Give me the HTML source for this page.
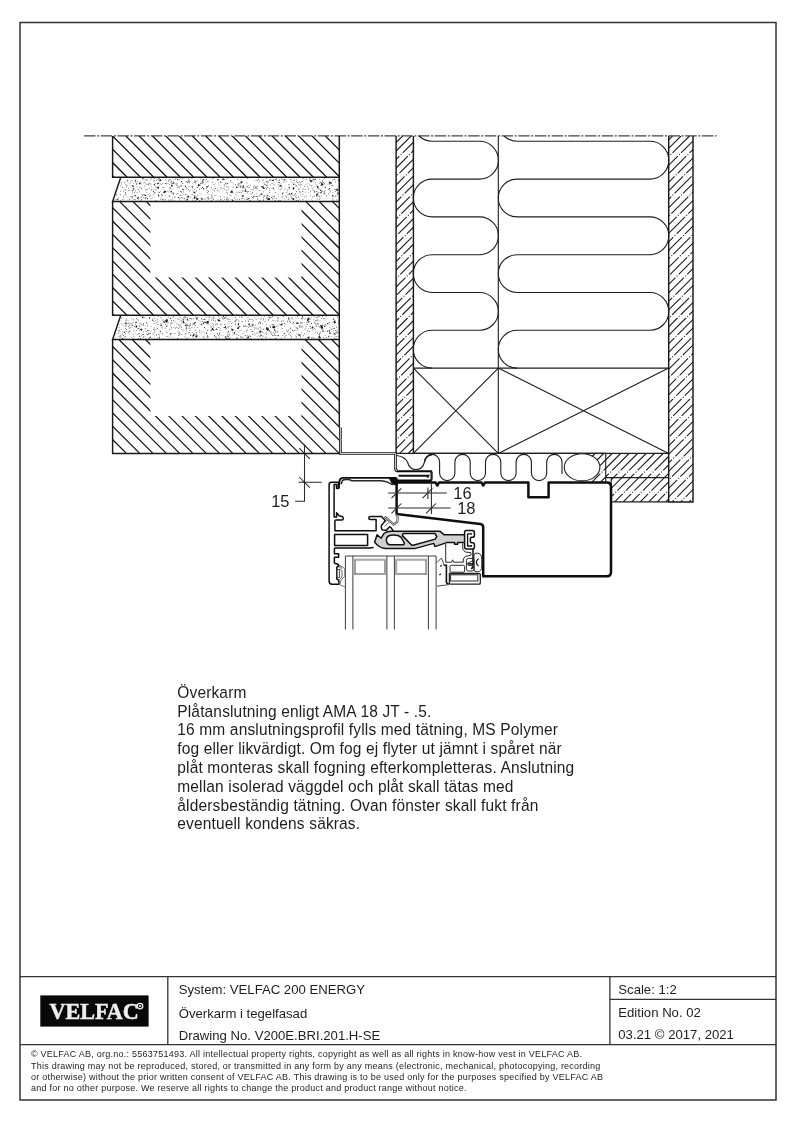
<!DOCTYPE html>
<html><head><meta charset="utf-8">
<style>
html,body{margin:0;padding:0;background:#fff;}
svg{display:block;filter:grayscale(100%);}
text{font-family:"Liberation Sans",sans-serif;fill:#1e1e1e;}
</style></head>
<body>
<svg width="794" height="1123" viewBox="0 0 794 1123">
<!-- frame -->
<rect x="20" y="22.5" width="756" height="1077.5" fill="none" stroke="#333" stroke-width="1.5"/>
<!-- title block -->
<g stroke="#333" stroke-width="1.3" fill="none">
<line x1="20" y1="976.7" x2="776" y2="976.7"/>
<line x1="20" y1="1044.6" x2="776" y2="1044.6"/>
<line x1="167.8" y1="976.7" x2="167.8" y2="1044.6"/>
<line x1="609.9" y1="976.7" x2="609.9" y2="1044.6"/>
<line x1="609.9" y1="999.4" x2="776" y2="999.4"/>
</g>
<rect x="40.3" y="995.4" width="108.3" height="31.2" fill="#080808"/>
<text x="49.4" y="1018.7" transform="translate(49.4 0) scale(0.985 1) translate(-49.4 0)" style="font-family:'Liberation Serif',serif;font-weight:bold;font-size:22.5px;fill:#eeeeee;stroke:#eeeeee;stroke-width:0.5px">VELFAC</text>
<circle cx="140" cy="1006.1" r="2.8" fill="none" stroke="#eee" stroke-width="1.3"/>
<circle cx="140" cy="1006.1" r="1.1" fill="#eee"/>
<g style="font-size:13.15px">
<text x="178.7" y="994.2">System: VELFAC 200 ENERGY</text>
<text x="178.7" y="1017.5">Överkarm i tegelfasad</text>
<text x="178.7" y="1039.5">Drawing No. V200E.BRI.201.H-SE</text>
<text x="618.3" y="993.7">Scale: 1:2</text>
<text x="618.3" y="1017">Edition No. 02</text>
<text x="618.3" y="1039">03.21 © 2017, 2021</text>
</g>
<g style="font-size:9px;letter-spacing:0.245px">
<text x="31" y="1057.2">© VELFAC AB, org.no.: 5563751493. All intellectual property rights, copyright as well as all rights in know-how vest in VELFAC AB.</text>
<text x="31" y="1068.9">This drawing may not be reproduced, stored, or transmitted in any form by any means (electronic, mechanical, photocopying, recording</text>
<text x="31" y="1080.3">or otherwise) without the prior written consent of VELFAC AB. This drawing is to be used only for the purposes specified by VELFAC AB</text>
<text x="31" y="1091.4">and for no other purpose. We reserve all rights to change the product and product range without notice.</text>
</g>
<g style="font-size:15.5px;letter-spacing:0.15px">
<text x="177.3" y="0" transform="translate(0 697.7) scale(1 1.06)">Överkarm</text>
<text x="177.3" y="0" transform="translate(0 716.5) scale(1 1.06)">Plåtanslutning enligt AMA 18 JT - .5.</text>
<text x="177.3" y="0" transform="translate(0 735.3) scale(1 1.06)">16 mm anslutningsprofil fylls med tätning, MS Polymer</text>
<text x="177.3" y="0" transform="translate(0 754.1) scale(1 1.06)">fog eller likvärdigt. Om fog ej flyter ut jämnt i spåret när</text>
<text x="177.3" y="0" transform="translate(0 772.9) scale(1 1.06)">plåt monteras skall fogning efterkompletteras. Anslutning</text>
<text x="177.3" y="0" transform="translate(0 791.7) scale(1 1.06)">mellan isolerad väggdel och plåt skall tätas med</text>
<text x="177.3" y="0" transform="translate(0 810.5) scale(1 1.06)">åldersbeständig tätning. Ovan fönster skall fukt från</text>
<text x="177.3" y="0" transform="translate(0 829.3) scale(1 1.06)">eventuell kondens säkras.</text>
</g>
<g id="drawing">
<path d="M84 135.9H716.5" stroke="#444" stroke-width="1.1" stroke-dasharray="11.5 1.6 2 1.6" fill="none"/>
<clipPath id="brk1"><path d="M112.6 136H339.3V177.2H112.6Z"/></clipPath>
<clipPath id="brk2"><path clip-rule="evenodd" d="M112.6 201.4H339.3V315.3H112.6ZM150.4 201.4H301.5V277.4H150.4Z"/></clipPath>
<clipPath id="brk3"><path clip-rule="evenodd" d="M112.6 339.5H339.3V453.4H112.6ZM150.4 339.5H301.5V416.0H150.4Z"/></clipPath>
<path clip-path="url(#brk1)" d="M59.40 136.00L100.60 177.20M72.70 136.00L113.90 177.20M86.00 136.00L127.20 177.20M99.30 136.00L140.50 177.20M112.60 136.00L153.80 177.20M125.90 136.00L167.10 177.20M139.20 136.00L180.40 177.20M152.50 136.00L193.70 177.20M165.80 136.00L207.00 177.20M179.10 136.00L220.30 177.20M192.40 136.00L233.60 177.20M205.70 136.00L246.90 177.20M219.00 136.00L260.20 177.20M232.30 136.00L273.50 177.20M245.60 136.00L286.80 177.20M258.90 136.00L300.10 177.20M272.20 136.00L313.40 177.20M285.50 136.00L326.70 177.20M298.80 136.00L340.00 177.20M312.10 136.00L353.30 177.20M325.40 136.00L366.60 177.20M338.70 136.00L379.90 177.20M352.00 136.00L393.20 177.20" fill="none" stroke="#141414" stroke-width="1.25"/>
<path clip-path="url(#brk2)" d="M-13.50 201.40L100.40 315.30M-0.20 201.40L113.70 315.30M13.10 201.40L127.00 315.30M26.40 201.40L140.30 315.30M39.70 201.40L153.60 315.30M53.00 201.40L166.90 315.30M66.30 201.40L180.20 315.30M79.60 201.40L193.50 315.30M92.90 201.40L206.80 315.30M106.20 201.40L220.10 315.30M119.50 201.40L233.40 315.30M132.80 201.40L246.70 315.30M146.10 201.40L260.00 315.30M159.40 201.40L273.30 315.30M172.70 201.40L286.60 315.30M186.00 201.40L299.90 315.30M199.30 201.40L313.20 315.30M212.60 201.40L326.50 315.30M225.90 201.40L339.80 315.30M239.20 201.40L353.10 315.30M252.50 201.40L366.40 315.30M265.80 201.40L379.70 315.30M279.10 201.40L393.00 315.30M292.40 201.40L406.30 315.30M305.70 201.40L419.60 315.30M319.00 201.40L432.90 315.30M332.30 201.40L446.20 315.30M345.60 201.40L459.50 315.30" fill="none" stroke="#141414" stroke-width="1.25"/>
<path clip-path="url(#brk3)" d="M-14.10 339.50L99.80 453.40M-0.80 339.50L113.10 453.40M12.50 339.50L126.40 453.40M25.80 339.50L139.70 453.40M39.10 339.50L153.00 453.40M52.40 339.50L166.30 453.40M65.70 339.50L179.60 453.40M79.00 339.50L192.90 453.40M92.30 339.50L206.20 453.40M105.60 339.50L219.50 453.40M118.90 339.50L232.80 453.40M132.20 339.50L246.10 453.40M145.50 339.50L259.40 453.40M158.80 339.50L272.70 453.40M172.10 339.50L286.00 453.40M185.40 339.50L299.30 453.40M198.70 339.50L312.60 453.40M212.00 339.50L325.90 453.40M225.30 339.50L339.20 453.40M238.60 339.50L352.50 453.40M251.90 339.50L365.80 453.40M265.20 339.50L379.10 453.40M278.50 339.50L392.40 453.40M291.80 339.50L405.70 453.40M305.10 339.50L419.00 453.40M318.40 339.50L432.30 453.40M331.70 339.50L445.60 453.40M345.00 339.50L458.90 453.40" fill="none" stroke="#141414" stroke-width="1.25"/>
<path d="M112.6 136V177.2H339.3M112.6 201.4V315.3H339.3M112.6 339.5V453.4H339.3" fill="none" stroke="#181818" stroke-width="1.45"/>
<path d="M120.8 177.2L112.6 201.4H339.3M120.8 315.3L112.6 339.5H339.3" fill="none" stroke="#181818" stroke-width="1.45"/>
<path d="M339.3 136V427.4" fill="none" stroke="#181818" stroke-width="1.45"/>
<path d="M185.9 181.4h0.71v0.71h-0.71zM129.0 190.1h0.60v0.60h-0.60zM125.7 189.5h0.46v0.46h-0.46zM210.7 179.6h0.49v0.49h-0.49zM208.6 196.7h0.50v0.50h-0.50zM163.1 192.2h0.83v0.83h-0.83zM243.1 187.0h0.84v0.84h-0.84zM123.1 197.4h0.57v0.57h-0.57zM145.2 180.7h0.57v0.57h-0.57zM297.2 182.1h0.68v0.68h-0.68zM257.1 186.4h0.67v0.67h-0.67zM126.8 179.3h0.53v0.53h-0.53zM266.5 187.7h0.58v0.58h-0.58zM245.1 188.2h0.57v0.57h-0.57zM292.3 193.8h0.55v0.55h-0.55zM242.5 189.9h0.80v0.80h-0.80zM277.6 184.5h0.84v0.84h-0.84zM139.3 187.4h0.75v0.75h-0.75zM147.0 189.1h0.47v0.47h-0.47zM263.8 195.3h0.68v0.68h-0.68zM310.6 185.1h0.73v0.73h-0.73zM247.0 191.1h0.63v0.63h-0.63zM302.6 199.3h0.64v0.64h-0.64zM262.8 179.4h0.73v0.73h-0.73zM259.0 200.4h0.78v0.78h-0.78zM177.0 186.7h0.72v0.72h-0.72zM150.6 180.6h0.47v0.47h-0.47zM286.4 180.9h0.55v0.55h-0.55zM201.0 197.7h0.48v0.48h-0.48zM214.2 190.4h0.80v0.80h-0.80zM297.9 197.5h0.56v0.56h-0.56zM206.5 186.1h0.80v0.80h-0.80zM329.2 181.4h0.52v0.52h-0.52zM165.1 183.3h0.64v0.64h-0.64zM245.9 183.9h0.45v0.45h-0.45zM207.4 186.3h0.68v0.68h-0.68zM328.2 193.6h0.66v0.66h-0.66zM252.3 193.3h0.47v0.47h-0.47zM316.1 195.6h0.80v0.80h-0.80zM293.1 186.9h0.61v0.61h-0.61zM136.0 192.3h0.47v0.47h-0.47zM127.8 182.7h0.51v0.51h-0.51zM189.5 179.2h0.45v0.45h-0.45zM146.8 180.3h0.60v0.60h-0.60zM118.4 197.8h0.70v0.70h-0.70zM146.2 183.7h0.59v0.59h-0.59zM195.0 180.8h0.79v0.79h-0.79zM337.2 188.5h0.64v0.64h-0.64zM132.0 180.3h0.59v0.59h-0.59zM172.5 196.7h0.51v0.51h-0.51zM117.8 199.5h0.66v0.66h-0.66zM145.8 190.3h0.46v0.46h-0.46zM232.1 200.1h0.80v0.80h-0.80zM270.1 183.9h0.60v0.60h-0.60zM150.4 195.4h0.66v0.66h-0.66zM288.8 185.5h0.54v0.54h-0.54zM296.2 200.3h0.79v0.79h-0.79zM294.9 196.5h0.75v0.75h-0.75zM163.9 189.7h0.59v0.59h-0.59zM175.8 183.9h0.73v0.73h-0.73zM329.0 188.1h0.82v0.82h-0.82zM336.1 199.6h0.60v0.60h-0.60zM162.5 183.1h0.53v0.53h-0.53zM158.8 192.1h0.81v0.81h-0.81zM302.7 188.8h0.71v0.71h-0.71zM293.5 179.9h0.71v0.71h-0.71zM318.4 195.7h0.75v0.75h-0.75zM220.7 182.0h0.77v0.77h-0.77zM187.8 196.1h0.84v0.84h-0.84zM202.1 187.1h0.83v0.83h-0.83zM276.5 181.8h0.50v0.50h-0.50zM146.8 198.4h0.77v0.77h-0.77zM145.7 196.7h0.84v0.84h-0.84zM261.3 185.9h0.67v0.67h-0.67zM142.2 178.3h0.84v0.84h-0.84zM259.6 189.9h0.82v0.82h-0.82zM210.7 197.7h0.78v0.78h-0.78zM160.3 183.7h0.57v0.57h-0.57zM167.0 191.3h0.55v0.55h-0.55zM207.4 181.0h0.81v0.81h-0.81zM192.6 188.4h0.68v0.68h-0.68zM317.2 187.5h0.82v0.82h-0.82zM226.1 190.0h0.66v0.66h-0.66zM154.0 178.1h0.77v0.77h-0.77zM151.6 188.7h0.74v0.74h-0.74zM238.5 185.4h0.66v0.66h-0.66zM238.2 195.7h0.49v0.49h-0.49zM239.3 183.6h0.56v0.56h-0.56zM287.3 189.5h0.67v0.67h-0.67zM284.5 198.6h0.63v0.63h-0.63zM251.2 189.4h0.65v0.65h-0.65zM269.3 188.2h0.66v0.66h-0.66zM220.7 199.3h0.73v0.73h-0.73zM310.9 199.3h0.55v0.55h-0.55zM239.2 199.3h0.79v0.79h-0.79zM143.6 180.7h0.63v0.63h-0.63zM129.0 183.4h0.48v0.48h-0.48zM264.0 195.7h0.81v0.81h-0.81zM147.5 194.2h0.71v0.71h-0.71zM144.9 198.0h0.84v0.84h-0.84zM162.3 199.5h0.61v0.61h-0.61zM222.8 200.4h0.78v0.78h-0.78zM149.1 187.8h0.66v0.66h-0.66zM189.3 182.4h0.58v0.58h-0.58zM276.0 178.4h0.67v0.67h-0.67zM212.2 178.4h0.58v0.58h-0.58zM253.7 189.6h0.48v0.48h-0.48zM335.4 195.8h0.84v0.84h-0.84zM136.3 184.0h0.47v0.47h-0.47zM288.8 184.1h0.50v0.50h-0.50zM208.1 198.6h0.78v0.78h-0.78zM171.1 181.4h0.82v0.82h-0.82zM241.7 193.8h0.49v0.49h-0.49zM125.6 193.6h0.62v0.62h-0.62zM129.0 199.2h0.70v0.70h-0.70zM293.9 179.9h0.79v0.79h-0.79zM127.7 197.5h0.63v0.63h-0.63zM189.3 190.5h0.82v0.82h-0.82zM173.2 180.9h0.66v0.66h-0.66zM166.5 180.5h0.51v0.51h-0.51zM124.0 182.6h0.57v0.57h-0.57zM181.6 195.2h0.57v0.57h-0.57zM225.7 182.0h0.59v0.59h-0.59zM116.1 194.6h0.67v0.67h-0.67zM155.5 188.7h0.82v0.82h-0.82zM136.6 196.5h0.62v0.62h-0.62zM224.6 196.9h0.61v0.61h-0.61zM227.2 193.5h0.84v0.84h-0.84zM190.1 196.8h0.73v0.73h-0.73zM256.5 187.1h0.59v0.59h-0.59zM124.9 180.9h0.48v0.48h-0.48zM280.2 183.8h0.52v0.52h-0.52zM131.7 197.0h0.80v0.80h-0.80zM264.3 184.4h0.55v0.55h-0.55zM178.9 188.4h0.51v0.51h-0.51zM213.4 183.9h0.83v0.83h-0.83zM332.6 190.4h0.55v0.55h-0.55zM331.0 185.0h0.59v0.59h-0.59zM220.0 189.4h0.53v0.53h-0.53zM226.8 178.1h0.56v0.56h-0.56zM132.9 187.0h0.47v0.47h-0.47zM165.3 191.2h0.66v0.66h-0.66zM282.4 192.9h0.74v0.74h-0.74zM311.5 186.8h0.58v0.58h-0.58zM335.3 181.4h0.74v0.74h-0.74zM258.1 179.0h0.78v0.78h-0.78zM314.4 192.2h0.74v0.74h-0.74zM296.3 181.1h0.66v0.66h-0.66zM226.7 196.9h0.77v0.77h-0.77zM299.5 191.2h0.81v0.81h-0.81zM267.1 193.7h0.54v0.54h-0.54zM194.2 180.4h0.78v0.78h-0.78zM238.9 192.2h0.70v0.70h-0.70zM266.6 189.1h0.45v0.45h-0.45zM293.0 194.9h0.65v0.65h-0.65zM233.7 192.9h0.48v0.48h-0.48zM279.3 183.7h0.48v0.48h-0.48zM172.7 194.5h0.53v0.53h-0.53zM279.9 200.1h0.65v0.65h-0.65zM199.1 188.8h0.72v0.72h-0.72zM286.1 191.9h0.71v0.71h-0.71zM130.1 181.3h0.55v0.55h-0.55zM280.7 184.9h0.68v0.68h-0.68zM173.4 193.2h0.73v0.73h-0.73zM265.4 184.6h0.66v0.66h-0.66zM217.7 188.5h0.50v0.50h-0.50zM314.7 182.5h0.84v0.84h-0.84zM324.4 178.4h0.63v0.63h-0.63zM298.1 199.9h0.63v0.63h-0.63zM173.4 182.7h0.83v0.83h-0.83zM160.3 191.1h0.51v0.51h-0.51zM231.1 199.5h0.50v0.50h-0.50zM298.1 189.5h0.80v0.80h-0.80zM271.7 183.2h0.81v0.81h-0.81zM222.6 178.6h0.45v0.45h-0.45zM223.8 188.2h0.57v0.57h-0.57zM144.4 185.8h0.58v0.58h-0.58zM302.7 178.0h0.75v0.75h-0.75zM302.4 180.7h0.82v0.82h-0.82zM273.9 198.4h0.57v0.57h-0.57zM196.8 186.9h0.85v0.85h-0.85zM245.9 186.2h0.62v0.62h-0.62zM174.8 179.1h0.49v0.49h-0.49zM301.4 184.5h0.82v0.82h-0.82zM169.0 184.0h0.65v0.65h-0.65zM155.5 186.4h0.83v0.83h-0.83zM312.6 196.4h0.70v0.70h-0.70zM319.2 199.3h0.67v0.67h-0.67zM275.4 179.1h0.74v0.74h-0.74zM214.6 195.0h0.71v0.71h-0.71zM177.3 179.1h0.82v0.82h-0.82zM141.4 188.7h0.59v0.59h-0.59zM180.0 194.7h0.84v0.84h-0.84zM171.5 192.8h0.57v0.57h-0.57zM238.7 186.9h0.52v0.52h-0.52zM149.2 182.7h0.81v0.81h-0.81zM225.0 183.0h0.81v0.81h-0.81zM338.0 188.2h0.51v0.51h-0.51zM156.1 180.1h0.59v0.59h-0.59zM133.2 183.4h0.55v0.55h-0.55zM241.4 198.1h0.75v0.75h-0.75zM206.0 187.4h0.66v0.66h-0.66zM197.8 185.6h0.47v0.47h-0.47zM175.4 199.9h0.50v0.50h-0.50zM226.5 192.2h0.80v0.80h-0.80zM161.5 184.1h0.55v0.55h-0.55zM203.0 188.1h0.83v0.83h-0.83zM304.6 197.7h0.46v0.46h-0.46zM119.9 194.0h0.81v0.81h-0.81zM219.7 191.3h0.45v0.45h-0.45zM201.2 198.9h0.78v0.78h-0.78zM306.1 200.0h0.55v0.55h-0.55zM137.3 181.5h0.66v0.66h-0.66zM266.9 199.3h0.74v0.74h-0.74zM259.0 195.3h0.63v0.63h-0.63zM237.3 178.9h0.76v0.76h-0.76zM165.2 198.8h0.71v0.71h-0.71zM181.3 180.9h0.55v0.55h-0.55zM256.5 193.8h0.49v0.49h-0.49zM128.5 189.9h0.68v0.68h-0.68zM200.4 183.1h0.69v0.69h-0.69zM216.8 199.7h0.71v0.71h-0.71zM312.5 188.7h0.54v0.54h-0.54zM168.5 199.7h0.73v0.73h-0.73zM182.1 178.5h0.65v0.65h-0.65zM265.2 187.5h0.55v0.55h-0.55zM263.6 198.9h0.54v0.54h-0.54zM120.3 185.6h0.62v0.62h-0.62zM267.0 182.5h0.77v0.77h-0.77zM279.8 189.4h0.53v0.53h-0.53zM332.0 185.0h0.78v0.78h-0.78zM164.8 183.0h0.75v0.75h-0.75zM179.3 199.5h0.65v0.65h-0.65zM155.0 183.0h0.62v0.62h-0.62zM263.1 199.4h0.51v0.51h-0.51zM201.6 182.8h0.84v0.84h-0.84zM144.7 179.2h0.47v0.47h-0.47zM201.6 198.3h0.80v0.80h-0.80zM278.3 200.5h0.82v0.82h-0.82zM187.1 182.2h0.82v0.82h-0.82zM281.4 178.7h0.72v0.72h-0.72zM198.2 186.4h0.58v0.58h-0.58zM150.9 178.1h0.56v0.56h-0.56zM192.1 199.6h0.50v0.50h-0.50zM330.7 182.7h0.59v0.59h-0.59zM298.4 196.6h0.62v0.62h-0.62zM123.7 188.7h0.60v0.60h-0.60zM320.6 182.4h0.60v0.60h-0.60zM315.5 178.7h0.61v0.61h-0.61zM296.2 195.3h0.47v0.47h-0.47zM320.7 183.8h0.75v0.75h-0.75zM315.9 185.7h0.56v0.56h-0.56zM329.2 191.9h0.55v0.55h-0.55zM274.7 185.2h0.56v0.56h-0.56zM319.9 192.3h0.83v0.83h-0.83zM220.1 199.6h0.83v0.83h-0.83zM200.0 183.7h0.62v0.62h-0.62zM224.2 199.0h0.52v0.52h-0.52zM294.1 194.7h0.78v0.78h-0.78zM287.4 191.7h0.58v0.58h-0.58zM184.9 186.2h0.76v0.76h-0.76zM130.5 182.5h0.75v0.75h-0.75zM168.5 179.5h0.46v0.46h-0.46zM237.6 185.4h0.84v0.84h-0.84zM312.4 200.3h0.56v0.56h-0.56zM131.6 180.2h0.65v0.65h-0.65zM273.2 188.1h0.54v0.54h-0.54zM206.9 192.0h0.72v0.72h-0.72zM281.8 197.1h0.72v0.72h-0.72zM140.0 197.0h0.57v0.57h-0.57zM240.8 186.4h0.75v0.75h-0.75zM157.7 183.6h0.55v0.55h-0.55zM147.3 198.0h0.68v0.68h-0.68zM186.4 187.0h0.85v0.85h-0.85zM227.4 183.2h0.77v0.77h-0.77zM260.4 200.4h0.49v0.49h-0.49zM220.0 196.5h0.79v0.79h-0.79zM319.4 178.9h0.57v0.57h-0.57zM139.6 182.3h0.84v0.84h-0.84zM244.5 199.0h0.60v0.60h-0.60zM308.5 188.1h0.55v0.55h-0.55zM288.5 199.4h0.49v0.49h-0.49zM247.4 192.0h0.54v0.54h-0.54zM196.0 181.2h0.53v0.53h-0.53zM170.3 191.5h0.71v0.71h-0.71zM158.6 178.3h0.58v0.58h-0.58zM266.0 182.2h0.57v0.57h-0.57zM158.6 196.0h0.67v0.67h-0.67zM126.9 180.3h0.61v0.61h-0.61zM237.0 192.4h0.49v0.49h-0.49zM149.6 193.7h0.61v0.61h-0.61zM176.7 185.0h0.83v0.83h-0.83zM183.3 190.8h0.59v0.59h-0.59zM206.8 197.5h0.85v0.85h-0.85zM194.9 182.5h0.74v0.74h-0.74zM158.7 178.1h0.81v0.81h-0.81zM208.5 196.5h0.61v0.61h-0.61zM312.3 188.4h0.52v0.52h-0.52zM257.5 198.6h0.49v0.49h-0.49zM253.3 186.4h0.65v0.65h-0.65zM145.6 184.4h0.66v0.66h-0.66zM321.9 180.5h0.65v0.65h-0.65zM294.6 199.9h0.53v0.53h-0.53zM141.2 199.3h0.84v0.84h-0.84zM221.8 179.2h0.82v0.82h-0.82zM200.3 198.4h0.70v0.70h-0.70zM299.1 181.6h0.76v0.76h-0.76zM162.8 187.1h0.79v0.79h-0.79zM300.2 182.1h0.54v0.54h-0.54zM203.0 189.7h0.60v0.60h-0.60zM140.4 183.6h0.74v0.74h-0.74zM315.6 178.9h0.67v0.67h-0.67zM283.9 178.9h0.79v0.79h-0.79zM139.2 191.5h0.67v0.67h-0.67zM254.4 184.9h0.62v0.62h-0.62zM244.4 187.6h0.71v0.71h-0.71zM213.7 187.9h0.46v0.46h-0.46zM252.6 189.1h0.54v0.54h-0.54zM285.3 195.6h0.63v0.63h-0.63zM153.2 188.7h0.49v0.49h-0.49zM141.7 187.7h0.49v0.49h-0.49zM212.6 189.5h0.47v0.47h-0.47zM256.6 179.9h0.74v0.74h-0.74zM288.5 189.6h0.47v0.47h-0.47zM226.6 186.5h0.83v0.83h-0.83zM143.4 197.4h0.85v0.85h-0.85zM278.2 196.4h0.53v0.53h-0.53zM334.7 189.1h0.83v0.83h-0.83zM319.8 181.7h0.77v0.77h-0.77zM323.1 179.5h0.59v0.59h-0.59zM283.6 181.6h0.81v0.81h-0.81zM174.8 196.4h0.51v0.51h-0.51zM226.2 198.8h0.53v0.53h-0.53zM172.1 189.4h0.58v0.58h-0.58zM120.9 182.1h0.51v0.51h-0.51zM324.4 193.4h0.81v0.81h-0.81zM150.8 195.7h0.50v0.50h-0.50zM232.6 192.4h0.59v0.59h-0.59zM310.1 190.5h0.68v0.68h-0.68zM312.2 180.4h0.85v0.85h-0.85zM255.1 186.9h0.77v0.77h-0.77zM172.5 200.4h0.68v0.68h-0.68zM194.1 195.3h0.63v0.63h-0.63zM152.6 194.8h0.47v0.47h-0.47zM298.0 183.7h0.71v0.71h-0.71zM335.2 191.2h0.72v0.72h-0.72zM183.3 178.0h0.46v0.46h-0.46zM146.4 191.9h0.62v0.62h-0.62zM228.6 198.2h0.50v0.50h-0.50zM164.0 192.8h0.46v0.46h-0.46zM136.7 186.1h0.54v0.54h-0.54zM244.6 191.3h0.53v0.53h-0.53zM253.7 188.7h0.50v0.50h-0.50zM324.5 183.5h0.51v0.51h-0.51zM134.3 192.4h0.80v0.80h-0.80zM289.5 187.1h0.56v0.56h-0.56zM239.8 185.9h0.71v0.71h-0.71zM213.0 199.2h0.74v0.74h-0.74zM168.8 198.4h0.47v0.47h-0.47zM232.8 187.2h0.55v0.55h-0.55zM125.8 195.6h0.45v0.45h-0.45zM237.2 199.3h0.51v0.51h-0.51zM157.7 191.7h0.65v0.65h-0.65zM257.7 196.4h0.52v0.52h-0.52zM182.6 184.8h0.47v0.47h-0.47zM313.8 195.7h0.74v0.74h-0.74zM281.2 188.5h0.75v0.75h-0.75zM215.0 183.1h0.49v0.49h-0.49zM165.1 178.9h0.58v0.58h-0.58zM282.2 193.7h0.79v0.79h-0.79zM273.6 184.0h0.67v0.67h-0.67zM211.2 195.8h0.66v0.66h-0.66zM172.6 192.5h0.84v0.84h-0.84zM161.7 197.9h0.46v0.46h-0.46zM171.5 183.3h0.75v0.75h-0.75zM326.3 194.9h0.58v0.58h-0.58zM311.7 185.4h0.55v0.55h-0.55zM317.9 192.3h0.73v0.73h-0.73zM263.1 200.1h0.64v0.64h-0.64zM302.5 193.8h0.79v0.79h-0.79zM211.5 194.4h0.68v0.68h-0.68zM182.2 182.8h0.70v0.70h-0.70zM130.2 198.6h0.51v0.51h-0.51zM322.7 185.8h0.51v0.51h-0.51zM269.3 192.3h0.73v0.73h-0.73zM279.3 179.5h0.69v0.69h-0.69zM194.8 196.5h0.78v0.78h-0.78zM314.2 179.5h0.80v0.80h-0.80zM319.4 199.3h0.49v0.49h-0.49zM159.1 180.5h0.46v0.46h-0.46zM304.4 196.4h0.70v0.70h-0.70zM299.2 192.3h0.56v0.56h-0.56zM135.2 180.2h0.75v0.75h-0.75zM159.0 185.2h0.62v0.62h-0.62zM176.5 194.2h0.60v0.60h-0.60zM185.2 199.8h0.65v0.65h-0.65zM305.2 192.0h0.46v0.46h-0.46zM206.0 187.9h0.76v0.76h-0.76zM191.0 193.9h0.67v0.67h-0.67zM161.6 197.5h0.49v0.49h-0.49zM298.0 181.9h0.45v0.45h-0.45zM158.3 195.2h0.84v0.84h-0.84zM223.8 196.0h0.52v0.52h-0.52zM224.5 185.8h0.78v0.78h-0.78zM171.5 199.3h0.56v0.56h-0.56zM161.2 193.8h0.65v0.65h-0.65zM137.5 192.4h0.48v0.48h-0.48zM290.8 193.8h0.76v0.76h-0.76zM254.6 186.0h0.61v0.61h-0.61zM201.9 198.1h0.48v0.48h-0.48zM313.6 178.6h0.53v0.53h-0.53zM172.1 198.4h0.65v0.65h-0.65zM198.4 198.0h0.54v0.54h-0.54zM216.9 190.0h0.75v0.75h-0.75zM282.9 192.6h0.59v0.59h-0.59zM186.5 181.5h0.79v0.79h-0.79zM262.4 194.8h0.52v0.52h-0.52zM211.9 195.5h0.68v0.68h-0.68zM141.1 188.4h0.80v0.80h-0.80zM166.4 182.3h0.57v0.57h-0.57zM271.7 197.1h0.51v0.51h-0.51zM147.9 183.6h0.58v0.58h-0.58zM230.7 181.6h0.58v0.58h-0.58zM155.4 200.0h0.74v0.74h-0.74zM135.6 199.7h0.49v0.49h-0.49zM199.5 200.2h0.77v0.77h-0.77zM278.5 187.8h0.53v0.53h-0.53zM256.9 180.4h0.53v0.53h-0.53zM200.4 178.8h0.61v0.61h-0.61zM291.5 193.7h0.65v0.65h-0.65zM255.6 188.5h0.51v0.51h-0.51zM249.2 187.1h0.75v0.75h-0.75zM318.0 187.7h0.68v0.68h-0.68zM282.0 187.5h0.54v0.54h-0.54zM276.0 197.9h0.76v0.76h-0.76zM271.0 197.3h0.72v0.72h-0.72zM257.7 188.3h0.58v0.58h-0.58zM254.7 180.2h0.62v0.62h-0.62zM289.6 194.1h0.70v0.70h-0.70zM169.2 187.6h0.63v0.63h-0.63zM253.2 187.3h0.72v0.72h-0.72zM323.0 182.1h0.71v0.71h-0.71zM288.6 186.8h0.65v0.65h-0.65zM333.1 178.9h0.67v0.67h-0.67zM149.0 195.7h0.83v0.83h-0.83zM230.0 180.3h0.68v0.68h-0.68zM235.0 194.2h0.65v0.65h-0.65zM257.2 196.7h0.66v0.66h-0.66zM205.4 199.4h0.53v0.53h-0.53zM267.4 186.9h0.76v0.76h-0.76zM140.3 200.2h0.59v0.59h-0.59zM125.4 184.2h0.61v0.61h-0.61zM207.7 193.8h0.59v0.59h-0.59zM172.6 183.1h0.75v0.75h-0.75zM325.2 189.9h0.54v0.54h-0.54zM293.9 186.9h0.53v0.53h-0.53zM141.8 195.6h0.77v0.77h-0.77zM256.1 188.6h0.67v0.67h-0.67zM163.7 199.8h0.59v0.59h-0.59zM257.1 196.5h0.78v0.78h-0.78zM218.5 184.7h0.67v0.67h-0.67zM140.9 196.8h0.59v0.59h-0.59zM305.0 184.0h0.60v0.60h-0.60zM170.0 187.6h0.52v0.52h-0.52zM176.2 183.5h0.57v0.57h-0.57zM221.1 187.7h0.70v0.70h-0.70zM261.7 186.2h0.82v0.82h-0.82zM305.9 179.3h0.78v0.78h-0.78zM317.5 195.7h0.51v0.51h-0.51zM300.6 192.3h0.46v0.46h-0.46zM115.2 199.5h0.71v0.71h-0.71zM169.2 180.3h0.51v0.51h-0.51zM165.4 195.5h0.59v0.59h-0.59zM147.1 198.4h0.77v0.77h-0.77zM150.6 198.1h0.69v0.69h-0.69zM289.3 193.1h0.81v0.81h-0.81zM290.9 197.0h0.53v0.53h-0.53zM269.3 190.0h0.75v0.75h-0.75zM211.8 197.9h0.67v0.67h-0.67zM172.4 183.3h0.51v0.51h-0.51zM224.1 179.3h0.64v0.64h-0.64zM145.3 189.1h0.65v0.65h-0.65zM234.6 197.5h0.45v0.45h-0.45zM302.8 188.6h0.68v0.68h-0.68zM263.1 197.0h0.60v0.60h-0.60zM207.3 199.7h0.48v0.48h-0.48zM256.7 192.4h0.46v0.46h-0.46zM250.5 193.4h0.82v0.82h-0.82zM187.3 200.2h0.65v0.65h-0.65zM222.2 198.3h0.46v0.46h-0.46zM275.1 192.1h0.59v0.59h-0.59zM307.5 186.3h0.64v0.64h-0.64zM231.5 195.4h0.53v0.53h-0.53zM211.0 187.5h0.67v0.67h-0.67zM299.6 184.6h0.78v0.78h-0.78zM203.9 189.4h0.56v0.56h-0.56zM227.2 200.0h0.71v0.71h-0.71zM291.7 185.5h0.58v0.58h-0.58zM180.3 191.3h0.70v0.70h-0.70zM290.0 178.9h0.74v0.74h-0.74zM312.9 190.3h0.47v0.47h-0.47zM180.6 178.1h0.53v0.53h-0.53zM321.0 191.8h0.71v0.71h-0.71zM291.1 198.6h0.69v0.69h-0.69zM252.1 192.2h0.73v0.73h-0.73zM247.5 193.4h0.54v0.54h-0.54zM263.5 188.3h0.76v0.76h-0.76zM135.5 182.1h0.46v0.46h-0.46zM287.8 198.7h0.71v0.71h-0.71zM196.0 196.6h0.76v0.76h-0.76zM239.7 183.8h0.57v0.57h-0.57zM208.0 185.2h0.62v0.62h-0.62zM257.8 199.1h0.47v0.47h-0.47zM241.0 178.9h0.50v0.50h-0.50zM295.9 191.0h0.82v0.82h-0.82zM213.6 178.3h0.60v0.60h-0.60zM246.5 199.2h0.84v0.84h-0.84zM220.1 187.3h0.49v0.49h-0.49zM258.4 182.8h0.51v0.51h-0.51zM267.3 180.7h0.84v0.84h-0.84zM132.5 197.7h0.50v0.50h-0.50zM116.6 194.3h0.55v0.55h-0.55zM278.5 182.2h0.47v0.47h-0.47zM287.7 194.1h0.79v0.79h-0.79zM277.7 179.9h0.70v0.70h-0.70zM273.0 188.4h0.82v0.82h-0.82zM170.1 199.8h0.74v0.74h-0.74zM259.8 196.5h0.48v0.48h-0.48zM183.0 194.5h0.52v0.52h-0.52zM307.4 189.0h0.47v0.47h-0.47zM195.7 191.0h0.63v0.63h-0.63zM265.7 181.3h0.77v0.77h-0.77zM194.8 192.6h0.70v0.70h-0.70zM207.1 186.7h0.76v0.76h-0.76zM326.3 195.7h0.68v0.68h-0.68zM178.7 179.4h0.84v0.84h-0.84zM271.7 196.7h0.58v0.58h-0.58zM249.6 200.1h0.78v0.78h-0.78zM248.6 185.0h0.62v0.62h-0.62zM313.5 186.5h0.72v0.72h-0.72zM248.7 198.3h0.77v0.77h-0.77zM176.7 178.0h0.56v0.56h-0.56zM208.2 191.3h0.78v0.78h-0.78zM313.3 179.0h0.78v0.78h-0.78zM296.2 197.6h0.68v0.68h-0.68zM174.5 197.2h0.77v0.77h-0.77zM267.5 198.7h0.59v0.59h-0.59zM131.8 190.5h0.77v0.77h-0.77zM157.9 195.0h0.82v0.82h-0.82zM165.5 191.7h0.72v0.72h-0.72zM217.9 182.7h0.55v0.55h-0.55zM282.5 195.9h0.63v0.63h-0.63zM132.4 196.2h0.76v0.76h-0.76zM165.3 191.1h0.81v0.81h-0.81zM312.8 189.8h0.64v0.64h-0.64zM245.9 182.3h0.53v0.53h-0.53zM153.5 193.8h0.60v0.60h-0.60zM240.3 187.1h0.66v0.66h-0.66zM146.3 179.0h0.85v0.85h-0.85zM197.2 180.4h0.70v0.70h-0.70zM290.7 181.5h0.69v0.69h-0.69zM190.6 189.7h0.46v0.46h-0.46zM120.2 200.4h0.80v0.80h-0.80zM222.6 190.8h0.55v0.55h-0.55zM288.9 187.6h0.83v0.83h-0.83zM286.2 196.5h0.84v0.84h-0.84zM170.1 178.9h0.53v0.53h-0.53zM153.5 179.9h0.47v0.47h-0.47zM238.7 197.7h0.63v0.63h-0.63zM326.9 198.6h0.48v0.48h-0.48zM247.9 187.0h0.50v0.50h-0.50zM329.6 183.8h0.68v0.68h-0.68zM257.5 199.6h0.72v0.72h-0.72zM201.5 188.1h0.51v0.51h-0.51zM331.1 200.4h0.54v0.54h-0.54zM121.3 183.8h0.59v0.59h-0.59zM316.8 198.4h0.78v0.78h-0.78zM123.2 195.8h0.73v0.73h-0.73zM258.9 200.3h0.47v0.47h-0.47zM145.4 195.1h0.83v0.83h-0.83zM265.7 184.8h0.69v0.69h-0.69zM284.0 180.4h0.58v0.58h-0.58zM170.7 180.8h0.64v0.64h-0.64zM150.7 183.4h0.51v0.51h-0.51zM265.9 178.3h0.74v0.74h-0.74zM156.7 178.8h0.82v0.82h-0.82zM162.5 199.1h0.80v0.80h-0.80zM313.6 181.2h0.63v0.63h-0.63zM134.5 199.0h0.79v0.79h-0.79zM254.7 188.2h0.59v0.59h-0.59zM298.8 188.8h0.70v0.70h-0.70zM144.9 183.0h0.47v0.47h-0.47zM274.0 190.5h0.51v0.51h-0.51zM309.6 184.0h0.61v0.61h-0.61zM147.8 184.1h0.79v0.79h-0.79zM188.3 181.8h0.65v0.65h-0.65zM184.5 198.4h0.50v0.50h-0.50zM334.0 179.3h0.81v0.81h-0.81zM263.8 182.8h0.64v0.64h-0.64zM177.3 183.8h0.53v0.53h-0.53zM195.0 200.4h0.85v0.85h-0.85zM321.9 180.2h0.57v0.57h-0.57zM315.3 179.3h0.74v0.74h-0.74zM179.0 200.1h0.46v0.46h-0.46zM295.1 185.7h0.51v0.51h-0.51zM231.7 182.2h0.62v0.62h-0.62zM318.9 182.9h0.68v0.68h-0.68zM143.8 182.1h0.76v0.76h-0.76zM273.6 182.4h0.48v0.48h-0.48zM132.4 191.8h0.65v0.65h-0.65zM174.6 182.7h0.69v0.69h-0.69zM272.7 196.3h0.68v0.68h-0.68zM158.4 179.5h0.74v0.74h-0.74zM204.9 194.3h0.47v0.47h-0.47zM296.0 185.6h0.79v0.79h-0.79zM308.2 189.1h0.46v0.46h-0.46zM318.5 188.8h0.80v0.80h-0.80zM172.8 182.2h0.78v0.78h-0.78zM195.6 181.7h0.60v0.60h-0.60zM247.2 178.1h0.66v0.66h-0.66zM213.4 189.7h0.50v0.50h-0.50zM274.2 196.5h0.80v0.80h-0.80zM185.2 194.1h0.60v0.60h-0.60zM282.5 179.4h0.80v0.80h-0.80zM328.4 189.2h0.66v0.66h-0.66zM232.6 190.1h0.46v0.46h-0.46zM331.4 183.1h0.52v0.52h-0.52zM135.8 183.7h0.78v0.78h-0.78zM270.7 182.4h0.46v0.46h-0.46zM248.2 191.0h0.66v0.66h-0.66zM271.5 180.3h0.80v0.80h-0.80zM274.8 179.0h0.50v0.50h-0.50zM224.3 189.3h0.56v0.56h-0.56zM140.2 187.2h0.50v0.50h-0.50zM246.5 197.5h0.51v0.51h-0.51zM242.2 194.9h0.52v0.52h-0.52zM299.4 199.2h0.61v0.61h-0.61zM207.7 197.0h0.66v0.66h-0.66zM202.1 199.3h0.76v0.76h-0.76zM189.2 183.4h0.58v0.58h-0.58zM211.1 200.2h0.77v0.77h-0.77zM319.1 196.4h0.79v0.79h-0.79zM124.7 189.7h0.83v0.83h-0.83zM323.9 183.6h0.62v0.62h-0.62zM255.7 186.2h0.66v0.66h-0.66zM128.3 187.8h0.65v0.65h-0.65zM331.9 195.6h0.82v0.82h-0.82zM255.8 196.3h0.80v0.80h-0.80zM312.7 178.8h0.71v0.71h-0.71zM172.7 193.3h0.56v0.56h-0.56zM235.3 198.9h0.70v0.70h-0.70zM169.3 189.8h0.62v0.62h-0.62zM327.7 184.5h0.57v0.57h-0.57zM259.1 180.7h0.69v0.69h-0.69zM328.9 189.6h0.56v0.56h-0.56zM218.1 190.1h0.51v0.51h-0.51zM140.6 181.0h0.57v0.57h-0.57zM204.6 184.5h0.55v0.55h-0.55zM132.5 190.3h0.79v0.79h-0.79zM250.6 190.9h0.71v0.71h-0.71zM158.1 194.1h0.63v0.63h-0.63zM236.6 191.8h0.64v0.64h-0.64zM182.8 183.5h0.54v0.54h-0.54zM228.5 186.7h0.68v0.68h-0.68zM307.6 183.4h0.67v0.67h-0.67zM223.8 184.4h0.85v0.85h-0.85zM179.4 195.5h0.51v0.51h-0.51zM127.7 197.7h0.63v0.63h-0.63zM126.6 186.8h0.63v0.63h-0.63zM279.0 180.5h0.54v0.54h-0.54zM329.6 194.7h0.51v0.51h-0.51zM188.8 186.0h0.72v0.72h-0.72zM252.0 197.2h0.78v0.78h-0.78zM229.7 194.7h0.75v0.75h-0.75zM284.4 188.7h0.76v0.76h-0.76zM272.9 198.7h0.50v0.50h-0.50zM309.6 178.1h0.76v0.76h-0.76zM245.1 189.3h0.84v0.84h-0.84zM242.0 187.4h0.76v0.76h-0.76zM310.0 191.7h0.60v0.60h-0.60zM214.9 188.3h0.74v0.74h-0.74zM178.9 186.8h0.67v0.67h-0.67zM199.6 185.3h0.76v0.76h-0.76zM304.8 189.3h0.63v0.63h-0.63zM154.3 184.9h0.51v0.51h-0.51zM242.8 191.1h0.49v0.49h-0.49zM320.7 185.3h0.79v0.79h-0.79zM302.2 199.7h0.53v0.53h-0.53zM209.1 198.6h0.45v0.45h-0.45zM123.3 190.8h0.65v0.65h-0.65zM320.8 195.5h0.67v0.67h-0.67zM338.4 189.7h0.66v0.66h-0.66zM267.6 186.8h0.59v0.59h-0.59zM247.1 185.9h0.83v0.83h-0.83zM265.6 189.9h0.49v0.49h-0.49zM197.3 187.1h0.67v0.67h-0.67zM242.5 197.9h0.84v0.84h-0.84zM222.7 187.9h0.70v0.70h-0.70zM337.9 185.8h0.66v0.66h-0.66zM297.2 181.9h0.58v0.58h-0.58zM333.9 196.7h0.66v0.66h-0.66zM137.6 198.2h0.73v0.73h-0.73zM298.2 200.4h0.81v0.81h-0.81zM207.8 181.5h0.57v0.57h-0.57zM228.3 189.4h0.53v0.53h-0.53zM153.9 192.2h0.69v0.69h-0.69zM192.5 200.5h0.70v0.70h-0.70zM122.2 187.3h0.77v0.77h-0.77zM182.0 193.6h0.45v0.45h-0.45zM181.5 197.0h0.68v0.68h-0.68zM263.7 182.4h0.65v0.65h-0.65zM237.7 184.0h0.71v0.71h-0.71zM232.8 200.5h0.68v0.68h-0.68zM205.6 180.7h0.51v0.51h-0.51zM284.4 180.4h0.49v0.49h-0.49zM151.2 189.8h0.78v0.78h-0.78zM251.3 196.2h0.47v0.47h-0.47zM185.6 194.2h0.59v0.59h-0.59zM150.9 184.0h0.49v0.49h-0.49zM317.1 191.2h0.59v0.59h-0.59zM214.4 186.7h0.47v0.47h-0.47zM314.0 191.2h0.83v0.83h-0.83zM212.0 192.0h0.55v0.55h-0.55zM122.5 199.0h0.79v0.79h-0.79zM183.8 198.3h0.78v0.78h-0.78zM181.3 191.6h0.83v0.83h-0.83zM224.7 199.5h0.55v0.55h-0.55zM200.8 194.2h0.54v0.54h-0.54zM182.5 197.8h0.64v0.64h-0.64zM291.9 183.5h0.52v0.52h-0.52zM193.7 182.2h0.84v0.84h-0.84zM178.4 190.7h0.50v0.50h-0.50zM233.3 186.7h0.61v0.61h-0.61zM127.4 180.8h0.78v0.78h-0.78zM192.1 183.5h0.53v0.53h-0.53zM176.7 183.4h0.46v0.46h-0.46zM262.9 185.7h0.51v0.51h-0.51zM272.3 180.1h0.56v0.56h-0.56zM301.5 180.9h0.63v0.63h-0.63zM301.8 196.2h0.51v0.51h-0.51zM192.4 194.3h0.60v0.60h-0.60zM329.4 182.7h0.83v0.83h-0.83zM226.8 183.1h0.63v0.63h-0.63zM142.2 194.0h0.55v0.55h-0.55zM316.1 191.3h0.60v0.60h-0.60zM168.3 191.7h0.54v0.54h-0.54zM309.9 180.8h0.66v0.66h-0.66zM235.3 184.1h0.76v0.76h-0.76zM199.6 192.9h0.68v0.68h-0.68zM182.9 186.8h0.48v0.48h-0.48zM152.6 197.2h0.58v0.58h-0.58zM262.5 180.5h0.67v0.67h-0.67zM194.4 189.3h0.57v0.57h-0.57zM127.5 185.0h0.54v0.54h-0.54zM141.1 194.2h0.56v0.56h-0.56zM203.8 198.5h0.76v0.76h-0.76zM312.3 197.5h0.50v0.50h-0.50zM175.1 178.7h0.72v0.72h-0.72zM262.7 185.9h0.62v0.62h-0.62zM261.7 193.8h0.55v0.55h-0.55zM304.1 186.0h0.70v0.70h-0.70zM153.7 180.6h0.82v0.82h-0.82zM278.6 194.1h0.47v0.47h-0.47zM121.6 181.7h0.53v0.53h-0.53zM181.2 186.6h0.47v0.47h-0.47zM182.9 192.4h0.52v0.52h-0.52zM302.5 190.9h0.74v0.74h-0.74zM170.2 187.8h0.72v0.72h-0.72zM191.6 178.0h0.78v0.78h-0.78zM288.2 184.5h0.47v0.47h-0.47zM305.8 191.7h0.47v0.47h-0.47zM167.9 180.5h0.77v0.77h-0.77zM160.1 198.7h0.75v0.75h-0.75zM132.1 193.7h0.61v0.61h-0.61zM281.7 196.7h0.56v0.56h-0.56zM132.9 199.4h0.62v0.62h-0.62zM323.0 193.6h0.75v0.75h-0.75zM300.3 192.2h0.63v0.63h-0.63zM124.9 193.8h0.62v0.62h-0.62zM228.4 199.0h0.50v0.50h-0.50zM284.9 179.0h0.73v0.73h-0.73zM294.9 183.9h0.67v0.67h-0.67zM331.9 192.4h0.67v0.67h-0.67zM169.1 179.3h0.59v0.59h-0.59zM205.7 182.6h0.57v0.57h-0.57zM143.5 194.0h0.72v0.72h-0.72zM166.4 183.5h0.66v0.66h-0.66zM213.3 199.2h0.59v0.59h-0.59zM180.3 198.0h0.51v0.51h-0.51zM240.0 185.5h0.78v0.78h-0.78zM236.6 195.2h0.52v0.52h-0.52zM263.4 191.5h0.63v0.63h-0.63zM285.9 196.8h0.50v0.50h-0.50zM178.0 186.1h0.53v0.53h-0.53zM126.2 184.3h0.53v0.53h-0.53zM271.3 188.1h0.50v0.50h-0.50zM186.0 188.6h0.60v0.60h-0.60zM150.6 179.6h0.45v0.45h-0.45zM337.0 195.0h0.48v0.48h-0.48zM274.8 200.2h0.68v0.68h-0.68zM137.2 189.0h0.62v0.62h-0.62zM155.5 190.3h0.45v0.45h-0.45zM320.6 192.6h0.70v0.70h-0.70zM324.2 192.7h0.55v0.55h-0.55zM168.2 181.1h0.46v0.46h-0.46zM287.8 197.0h0.57v0.57h-0.57zM154.6 192.4h0.79v0.79h-0.79zM322.2 181.8h0.76v0.76h-0.76zM300.4 194.8h0.58v0.58h-0.58zM154.3 196.7h0.58v0.58h-0.58zM196.0 190.5h0.60v0.60h-0.60zM300.7 183.4h0.47v0.47h-0.47zM240.8 192.2h0.78v0.78h-0.78zM272.2 198.5h0.83v0.83h-0.83zM224.4 189.3h0.51v0.51h-0.51zM180.4 191.1h0.48v0.48h-0.48zM268.2 181.7h0.63v0.63h-0.63zM332.0 180.0h0.47v0.47h-0.47zM212.0 182.3h0.74v0.74h-0.74zM306.1 195.8h0.62v0.62h-0.62zM176.7 193.0h0.66v0.66h-0.66zM207.9 185.7h0.63v0.63h-0.63zM263.3 196.7h0.81v0.81h-0.81zM149.8 184.7h0.63v0.63h-0.63zM240.0 185.9h0.53v0.53h-0.53zM131.8 185.3h0.63v0.63h-0.63zM332.3 198.5h0.80v0.80h-0.80zM333.0 199.7h0.70v0.70h-0.70zM296.1 179.4h0.72v0.72h-0.72zM250.4 184.7h0.68v0.68h-0.68zM328.1 188.9h0.71v0.71h-0.71zM180.3 185.8h0.80v0.80h-0.80zM266.1 188.1h0.48v0.48h-0.48zM262.0 186.4h0.68v0.68h-0.68zM206.8 190.0h0.68v0.68h-0.68zM202.3 180.6h0.52v0.52h-0.52zM313.9 190.4h0.49v0.49h-0.49zM307.6 183.7h0.49v0.49h-0.49zM232.7 183.7h0.65v0.65h-0.65zM237.9 183.1h0.68v0.68h-0.68zM138.2 189.6h0.69v0.69h-0.69zM130.7 187.2h0.48v0.48h-0.48zM212.0 197.5h0.67v0.67h-0.67zM274.2 195.1h0.50v0.50h-0.50zM336.7 194.3h0.49v0.49h-0.49zM300.4 186.9h0.52v0.52h-0.52zM329.8 190.7h0.76v0.76h-0.76zM143.5 195.5h0.47v0.47h-0.47zM166.2 186.4h0.46v0.46h-0.46zM247.0 182.8h0.57v0.57h-0.57zM272.6 187.6h0.81v0.81h-0.81zM253.1 197.7h0.68v0.68h-0.68zM320.1 197.7h0.52v0.52h-0.52zM281.2 185.7h0.76v0.76h-0.76zM266.5 196.7h0.50v0.50h-0.50zM197.0 194.7h0.83v0.83h-0.83zM275.9 179.0h0.69v0.69h-0.69zM135.1 190.4h0.77v0.77h-0.77zM138.2 198.9h0.72v0.72h-0.72zM170.2 182.4h0.63v0.63h-0.63zM302.2 191.1h0.50v0.50h-0.50zM293.7 182.2h0.67v0.67h-0.67zM178.2 193.5h0.60v0.60h-0.60zM145.2 197.8h0.67v0.67h-0.67zM268.6 196.3h0.83v0.83h-0.83zM146.7 189.3h0.80v0.80h-0.80zM293.7 178.8h0.52v0.52h-0.52zM297.7 193.4h0.61v0.61h-0.61zM220.2 181.6h0.79v0.79h-0.79zM201.6 197.7h0.69v0.69h-0.69zM129.8 185.4h0.54v0.54h-0.54zM314.8 191.3h0.47v0.47h-0.47zM151.0 186.2h0.64v0.64h-0.64zM243.1 186.8h0.59v0.59h-0.59zM188.1 178.5h0.63v0.63h-0.63zM335.7 179.0h0.51v0.51h-0.51zM264.4 184.2h0.56v0.56h-0.56zM225.7 183.9h0.68v0.68h-0.68zM232.1 199.6h0.85v0.85h-0.85zM120.3 190.7h0.76v0.76h-0.76zM309.9 195.5h0.70v0.70h-0.70zM256.2 186.2h0.56v0.56h-0.56zM292.5 197.7h0.83v0.83h-0.83zM266.7 184.9h0.76v0.76h-0.76zM279.9 189.5h0.70v0.70h-0.70zM191.9 190.4h0.61v0.61h-0.61zM126.3 185.6h0.58v0.58h-0.58zM336.2 188.9h0.60v0.60h-0.60zM167.7 183.3h0.59v0.59h-0.59zM143.3 178.2h0.80v0.80h-0.80zM215.1 188.1h0.68v0.68h-0.68zM181.0 181.8h0.48v0.48h-0.48zM180.8 185.0h0.74v0.74h-0.74zM237.3 199.2h0.59v0.59h-0.59zM321.0 191.2h0.48v0.48h-0.48zM153.0 191.1h0.84v0.84h-0.84zM193.3 195.5h0.62v0.62h-0.62zM309.0 179.5h0.64v0.64h-0.64zM316.0 184.2h0.55v0.55h-0.55zM173.2 193.9h0.54v0.54h-0.54zM203.0 182.5h0.69v0.69h-0.69zM308.1 192.6h0.53v0.53h-0.53zM278.6 199.8h0.69v0.69h-0.69zM130.5 196.3h0.80v0.80h-0.80zM189.8 181.1h0.53v0.53h-0.53zM234.1 197.8h0.71v0.71h-0.71zM321.4 182.8h0.58v0.58h-0.58zM282.1 192.7h0.61v0.61h-0.61zM266.2 185.6h0.47v0.47h-0.47zM206.3 179.0h0.70v0.70h-0.70zM188.3 189.2h0.69v0.69h-0.69zM170.7 188.5h0.46v0.46h-0.46zM321.9 190.7h0.85v0.85h-0.85zM125.3 191.9h0.74v0.74h-0.74zM187.1 180.1h0.51v0.51h-0.51zM144.3 195.7L144.8 194.1L145.7 195.4ZM165.7 192.1L164.7 193.0L163.7 192.1L164.0 191.1L165.0 190.7ZM134.3 194.9L136.0 195.3L135.9 196.1L134.6 196.5ZM171.5 192.6L170.9 192.0L170.7 191.0L171.7 190.8L172.0 191.5ZM294.4 188.7L293.0 190.0L292.6 188.1L293.6 187.3ZM318.1 187.6L317.0 187.2L316.6 186.0L318.3 185.9L318.5 187.2ZM242.1 182.8L240.7 183.8L240.5 181.5L242.9 181.2ZM159.9 178.7L161.7 180.5L159.5 181.4ZM268.5 196.0L266.9 196.3L266.6 194.4ZM133.7 185.7L134.4 186.4L132.7 186.7L132.1 186.1L132.6 185.2ZM117.6 200.3L116.8 199.8L116.4 199.0L117.7 198.8ZM338.4 191.2L336.5 190.6L335.8 189.7L337.4 188.8ZM330.6 182.9L332.1 182.5L331.3 184.1ZM267.9 200.0L268.1 198.3L269.0 198.1L270.3 198.8L269.6 200.2ZM323.5 184.5L323.0 185.3L321.4 185.5L321.0 183.6L322.6 183.2ZM263.9 187.6L264.7 188.1L264.3 188.9L263.2 188.9L263.1 188.1ZM232.7 192.5L230.9 193.0L230.2 192.2L231.4 190.5L232.6 190.7ZM339.1 181.1L338.0 180.7L338.1 179.8L339.5 179.4L339.9 180.6ZM185.9 186.9L184.7 187.1L185.0 185.8L185.9 185.8ZM337.7 192.2L338.8 192.9L338.3 194.6L336.9 193.3ZM293.2 184.1L294.1 183.5L294.6 184.0L294.1 184.8L293.1 184.9ZM157.8 188.7L157.2 186.9L158.8 186.8L159.1 188.8ZM191.8 186.0L192.6 186.4L193.4 186.8L192.7 187.6L191.7 187.4ZM323.6 191.6L325.1 191.5L324.5 192.8ZM202.4 181.0L203.5 182.5L201.2 182.3ZM140.7 183.7L138.9 184.5L139.2 182.7ZM187.0 197.5L187.7 195.5L188.7 195.7L189.3 196.9L188.3 197.7ZM171.6 186.9L171.0 185.0L172.1 184.4L173.1 185.8ZM180.8 182.5L181.4 180.8L182.3 182.1ZM322.1 190.0L320.0 191.0L319.8 189.6ZM157.1 183.7L157.2 183.0L158.5 182.7L159.4 182.9L158.0 184.4ZM278.8 181.6L280.2 182.7L278.6 182.9ZM134.4 181.4L135.9 179.5L136.3 181.2ZM270.0 180.7L269.3 179.9L270.1 179.1L270.7 180.0ZM293.2 200.3L292.1 198.3L293.7 198.2L294.6 199.5ZM204.5 179.7L203.7 180.4L202.6 180.4L202.9 178.8ZM132.8 189.0L133.7 187.5L134.4 189.4L133.2 189.6ZM248.5 199.4L247.4 199.5L247.5 198.3L248.7 198.1ZM294.9 193.4L295.8 193.4L296.1 194.1L295.3 194.4ZM243.1 184.9L244.0 185.9L243.3 187.8L242.4 186.5ZM135.7 184.0L137.2 182.9L137.0 184.8ZM158.6 186.8L157.6 188.2L156.4 187.2ZM291.6 194.3L290.9 193.3L292.6 192.6ZM179.2 198.6L177.3 196.9L179.4 197.0ZM188.8 180.0L189.9 181.5L188.3 181.4ZM325.3 186.7L326.2 187.5L325.0 188.0L324.6 187.0ZM271.4 180.6L273.9 179.3L273.4 181.2ZM253.8 195.8L254.9 196.6L254.0 197.0L252.9 196.4ZM315.9 194.5L316.9 193.5L318.2 193.6L317.9 194.8L316.9 195.7ZM168.6 195.6L170.7 195.8L169.4 196.8ZM263.8 187.0L263.8 187.8L261.9 187.8L261.3 186.6L262.8 186.4ZM222.1 179.6L223.3 178.0L224.2 180.0ZM217.8 180.4L217.0 179.4L217.8 178.8L219.0 179.4ZM154.1 185.6L153.5 184.0L155.3 183.8ZM228.0 199.1L226.7 200.1L226.1 198.6ZM260.6 193.7L261.2 193.1L262.2 194.2L262.0 194.7L260.6 195.1ZM195.2 192.5L195.1 193.6L194.0 193.2L193.1 191.8L194.0 191.6ZM182.6 188.6L184.6 189.9L182.1 189.7ZM246.2 192.6L244.4 190.7L246.1 190.2ZM235.7 186.0L238.0 187.7L236.2 188.3ZM243.5 197.0L242.4 197.1L241.9 196.0L242.4 195.3L243.9 195.4ZM328.5 183.0L329.9 181.4L331.3 182.6L330.1 184.1ZM138.8 197.1L138.8 198.1L137.9 199.1L136.9 198.5L137.6 197.3ZM195.0 196.8L195.9 197.8L194.5 199.0L193.6 198.2L194.3 196.3ZM309.9 181.2L309.6 180.3L311.6 180.1L312.0 181.3L311.2 182.5ZM279.6 186.9L279.3 185.7L281.2 184.8L281.3 186.3ZM267.6 197.2L267.4 199.0L265.5 198.1ZM291.2 195.7L291.3 196.8L289.9 195.7ZM198.6 183.9L199.5 183.9L199.4 185.7L198.7 185.9L197.5 185.3ZM332.1 195.7L333.0 194.8L333.8 195.8L333.0 196.6ZM246.2 190.7L246.4 191.9L245.3 191.4ZM163.0 195.2L161.8 196.0L161.5 194.6ZM196.2 198.1L197.8 197.9L198.4 199.9L196.2 199.8ZM185.7 198.7L188.3 199.0L187.5 200.5Z" fill="#1a1a1a"/>
<path d="M137.9 319.8h0.75v0.75h-0.75zM129.9 336.4h0.46v0.46h-0.46zM288.5 334.0h0.75v0.75h-0.75zM287.5 320.6h0.75v0.75h-0.75zM302.2 322.8h0.76v0.76h-0.76zM117.8 332.8h0.70v0.70h-0.70zM207.1 335.0h0.71v0.71h-0.71zM281.7 328.3h0.67v0.67h-0.67zM254.6 328.9h0.58v0.58h-0.58zM192.8 318.5h0.75v0.75h-0.75zM269.0 325.6h0.46v0.46h-0.46zM273.9 333.6h0.59v0.59h-0.59zM306.7 324.3h0.80v0.80h-0.80zM222.5 318.0h0.59v0.59h-0.59zM184.7 336.4h0.84v0.84h-0.84zM304.9 328.0h0.55v0.55h-0.55zM200.6 324.1h0.71v0.71h-0.71zM324.7 320.5h0.56v0.56h-0.56zM296.9 327.8h0.76v0.76h-0.76zM276.8 319.7h0.81v0.81h-0.81zM211.4 319.2h0.49v0.49h-0.49zM277.2 328.1h0.46v0.46h-0.46zM296.5 338.1h0.48v0.48h-0.48zM289.1 320.7h0.68v0.68h-0.68zM319.3 335.5h0.59v0.59h-0.59zM239.2 326.5h0.76v0.76h-0.76zM317.1 316.3h0.53v0.53h-0.53zM192.8 336.0h0.49v0.49h-0.49zM311.1 337.5h0.63v0.63h-0.63zM242.0 336.9h0.72v0.72h-0.72zM319.4 333.3h0.68v0.68h-0.68zM275.3 335.6h0.52v0.52h-0.52zM260.1 335.6h0.85v0.85h-0.85zM274.7 326.7h0.80v0.80h-0.80zM249.7 318.8h0.65v0.65h-0.65zM198.9 331.9h0.77v0.77h-0.77zM313.7 316.2h0.68v0.68h-0.68zM281.2 321.2h0.75v0.75h-0.75zM259.1 321.6h0.81v0.81h-0.81zM157.9 316.1h0.64v0.64h-0.64zM203.5 337.4h0.83v0.83h-0.83zM288.0 317.1h0.67v0.67h-0.67zM243.4 325.5h0.47v0.47h-0.47zM218.4 326.9h0.83v0.83h-0.83zM284.4 336.0h0.49v0.49h-0.49zM145.0 328.1h0.70v0.70h-0.70zM185.7 327.6h0.83v0.83h-0.83zM198.9 336.0h0.48v0.48h-0.48zM119.3 330.8h0.48v0.48h-0.48zM239.6 329.9h0.77v0.77h-0.77zM234.2 332.1h0.71v0.71h-0.71zM251.7 326.4h0.72v0.72h-0.72zM239.2 320.8h0.52v0.52h-0.52zM227.3 335.0h0.53v0.53h-0.53zM272.8 332.7h0.72v0.72h-0.72zM335.0 329.9h0.48v0.48h-0.48zM230.1 331.4h0.49v0.49h-0.49zM166.6 336.0h0.84v0.84h-0.84zM132.9 322.3h0.57v0.57h-0.57zM179.5 327.3h0.68v0.68h-0.68zM188.3 320.4h0.48v0.48h-0.48zM122.5 331.5h0.76v0.76h-0.76zM161.0 324.8h0.84v0.84h-0.84zM321.6 329.1h0.53v0.53h-0.53zM284.2 333.1h0.48v0.48h-0.48zM277.5 331.2h0.50v0.50h-0.50zM318.7 334.2h0.47v0.47h-0.47zM252.6 322.7h0.55v0.55h-0.55zM142.9 333.9h0.79v0.79h-0.79zM119.0 324.7h0.51v0.51h-0.51zM149.5 337.5h0.71v0.71h-0.71zM219.7 330.2h0.75v0.75h-0.75zM282.4 323.5h0.77v0.77h-0.77zM189.7 328.4h0.59v0.59h-0.59zM297.2 316.1h0.76v0.76h-0.76zM166.6 323.8h0.48v0.48h-0.48zM149.1 316.9h0.79v0.79h-0.79zM208.7 323.7h0.48v0.48h-0.48zM140.2 326.5h0.53v0.53h-0.53zM124.7 331.1h0.55v0.55h-0.55zM320.1 337.1h0.66v0.66h-0.66zM288.2 330.4h0.71v0.71h-0.71zM161.9 333.2h0.80v0.80h-0.80zM274.2 325.8h0.50v0.50h-0.50zM327.0 329.9h0.70v0.70h-0.70zM150.2 337.5h0.56v0.56h-0.56zM201.0 323.8h0.83v0.83h-0.83zM133.4 335.7h0.71v0.71h-0.71zM252.5 330.9h0.75v0.75h-0.75zM144.7 317.7h0.48v0.48h-0.48zM201.1 317.9h0.74v0.74h-0.74zM233.8 317.8h0.48v0.48h-0.48zM238.7 332.4h0.71v0.71h-0.71zM228.0 335.9h0.82v0.82h-0.82zM214.4 336.4h0.55v0.55h-0.55zM201.9 331.8h0.52v0.52h-0.52zM336.4 335.9h0.79v0.79h-0.79zM216.8 323.4h0.53v0.53h-0.53zM200.4 333.8h0.49v0.49h-0.49zM159.8 324.0h0.58v0.58h-0.58zM253.9 335.2h0.48v0.48h-0.48zM132.8 333.8h0.71v0.71h-0.71zM183.2 322.0h0.47v0.47h-0.47zM221.5 335.0h0.47v0.47h-0.47zM170.0 318.1h0.68v0.68h-0.68zM126.6 322.8h0.56v0.56h-0.56zM323.1 337.3h0.59v0.59h-0.59zM235.2 320.1h0.60v0.60h-0.60zM279.4 324.5h0.52v0.52h-0.52zM262.6 335.8h0.81v0.81h-0.81zM150.1 333.3h0.82v0.82h-0.82zM119.4 330.8h0.80v0.80h-0.80zM285.1 335.4h0.55v0.55h-0.55zM314.6 322.0h0.45v0.45h-0.45zM135.1 324.6h0.60v0.60h-0.60zM176.4 326.8h0.64v0.64h-0.64zM137.5 328.6h0.65v0.65h-0.65zM204.1 327.1h0.82v0.82h-0.82zM318.4 325.7h0.47v0.47h-0.47zM155.8 322.1h0.63v0.63h-0.63zM166.7 323.8h0.47v0.47h-0.47zM227.8 327.0h0.54v0.54h-0.54zM250.8 338.7h0.82v0.82h-0.82zM197.7 317.5h0.62v0.62h-0.62zM125.3 327.9h0.65v0.65h-0.65zM184.1 318.4h0.64v0.64h-0.64zM218.6 337.5h0.76v0.76h-0.76zM142.4 334.3h0.70v0.70h-0.70zM134.8 322.4h0.77v0.77h-0.77zM128.0 332.0h0.64v0.64h-0.64zM170.8 327.6h0.70v0.70h-0.70zM296.2 336.5h0.71v0.71h-0.71zM268.0 316.8h0.71v0.71h-0.71zM287.4 331.1h0.51v0.51h-0.51zM195.0 324.9h0.80v0.80h-0.80zM185.4 317.0h0.79v0.79h-0.79zM261.1 330.8h0.73v0.73h-0.73zM276.3 326.3h0.79v0.79h-0.79zM177.1 338.1h0.79v0.79h-0.79zM181.5 323.2h0.53v0.53h-0.53zM127.6 316.7h0.52v0.52h-0.52zM194.0 327.0h0.48v0.48h-0.48zM197.1 335.4h0.75v0.75h-0.75zM264.7 320.9h0.81v0.81h-0.81zM156.1 326.7h0.57v0.57h-0.57zM290.0 322.2h0.84v0.84h-0.84zM283.6 316.8h0.52v0.52h-0.52zM206.0 332.1h0.68v0.68h-0.68zM286.8 321.5h0.78v0.78h-0.78zM147.6 334.4h0.69v0.69h-0.69zM220.1 328.5h0.60v0.60h-0.60zM171.7 328.8h0.56v0.56h-0.56zM206.7 336.7h0.85v0.85h-0.85zM143.2 323.4h0.75v0.75h-0.75zM150.5 325.7h0.48v0.48h-0.48zM297.9 334.0h0.55v0.55h-0.55zM241.6 321.1h0.51v0.51h-0.51zM281.0 338.0h0.73v0.73h-0.73zM134.1 325.9h0.78v0.78h-0.78zM331.4 336.5h0.48v0.48h-0.48zM283.0 320.1h0.51v0.51h-0.51zM129.2 324.6h0.57v0.57h-0.57zM262.6 332.0h0.68v0.68h-0.68zM213.5 327.4h0.66v0.66h-0.66zM266.4 324.5h0.66v0.66h-0.66zM238.9 326.0h0.69v0.69h-0.69zM169.9 324.7h0.79v0.79h-0.79zM329.0 330.6h0.61v0.61h-0.61zM328.9 321.9h0.78v0.78h-0.78zM271.2 317.4h0.72v0.72h-0.72zM160.6 323.5h0.82v0.82h-0.82zM213.2 323.8h0.75v0.75h-0.75zM328.8 336.2h0.64v0.64h-0.64zM185.9 338.0h0.84v0.84h-0.84zM132.7 338.0h0.67v0.67h-0.67zM203.3 319.1h0.75v0.75h-0.75zM196.5 332.1h0.60v0.60h-0.60zM224.4 324.3h0.85v0.85h-0.85zM257.3 336.0h0.50v0.50h-0.50zM227.9 336.1h0.70v0.70h-0.70zM258.8 326.7h0.63v0.63h-0.63zM187.7 328.4h0.59v0.59h-0.59zM284.2 323.2h0.77v0.77h-0.77zM269.4 331.4h0.76v0.76h-0.76zM201.7 318.7h0.70v0.70h-0.70zM178.7 328.5h0.53v0.53h-0.53zM168.8 329.5h0.76v0.76h-0.76zM196.1 335.3h0.71v0.71h-0.71zM149.6 317.6h0.63v0.63h-0.63zM263.2 333.4h0.47v0.47h-0.47zM315.5 329.6h0.61v0.61h-0.61zM239.4 316.8h0.77v0.77h-0.77zM301.9 318.0h0.55v0.55h-0.55zM151.9 320.0h0.81v0.81h-0.81zM290.2 321.4h0.46v0.46h-0.46zM131.3 318.1h0.53v0.53h-0.53zM218.9 317.8h0.59v0.59h-0.59zM178.6 333.0h0.80v0.80h-0.80zM187.9 337.1h0.56v0.56h-0.56zM172.7 317.5h0.47v0.47h-0.47zM332.8 319.1h0.80v0.80h-0.80zM186.9 327.4h0.51v0.51h-0.51zM249.5 338.5h0.77v0.77h-0.77zM282.5 335.1h0.62v0.62h-0.62zM179.4 316.5h0.57v0.57h-0.57zM128.9 326.8h0.48v0.48h-0.48zM147.0 334.0h0.63v0.63h-0.63zM218.6 334.5h0.70v0.70h-0.70zM299.2 326.8h0.62v0.62h-0.62zM115.6 337.2h0.54v0.54h-0.54zM302.6 326.4h0.75v0.75h-0.75zM226.0 327.9h0.58v0.58h-0.58zM125.5 321.3h0.46v0.46h-0.46zM228.6 320.9h0.74v0.74h-0.74zM215.3 320.4h0.52v0.52h-0.52zM335.7 338.6h0.81v0.81h-0.81zM142.3 317.5h0.64v0.64h-0.64zM189.3 332.0h0.72v0.72h-0.72zM271.4 334.3h0.61v0.61h-0.61zM230.9 323.0h0.76v0.76h-0.76zM184.0 322.7h0.58v0.58h-0.58zM166.1 320.1h0.70v0.70h-0.70zM168.1 316.8h0.58v0.58h-0.58zM290.2 332.3h0.80v0.80h-0.80zM267.7 326.9h0.57v0.57h-0.57zM129.6 331.0h0.70v0.70h-0.70zM211.5 317.6h0.77v0.77h-0.77zM228.8 326.3h0.79v0.79h-0.79zM324.8 325.6h0.73v0.73h-0.73zM233.6 333.7h0.74v0.74h-0.74zM183.8 317.3h0.76v0.76h-0.76zM132.5 336.9h0.50v0.50h-0.50zM306.7 337.4h0.67v0.67h-0.67zM126.9 331.6h0.46v0.46h-0.46zM261.4 335.4h0.71v0.71h-0.71zM189.7 327.8h0.51v0.51h-0.51zM270.4 332.3h0.74v0.74h-0.74zM119.8 336.7h0.72v0.72h-0.72zM232.5 331.9h0.58v0.58h-0.58zM297.8 329.7h0.61v0.61h-0.61zM166.8 324.8h0.77v0.77h-0.77zM272.7 324.3h0.81v0.81h-0.81zM216.2 328.6h0.49v0.49h-0.49zM325.9 337.3h0.74v0.74h-0.74zM200.1 321.2h0.52v0.52h-0.52zM296.0 333.2h0.61v0.61h-0.61zM158.3 333.9h0.75v0.75h-0.75zM319.7 327.2h0.80v0.80h-0.80zM228.7 334.2h0.46v0.46h-0.46zM228.6 334.5h0.73v0.73h-0.73zM333.4 330.0h0.58v0.58h-0.58zM277.6 335.3h0.72v0.72h-0.72zM261.8 317.4h0.45v0.45h-0.45zM165.0 323.9h0.76v0.76h-0.76zM170.1 317.0h0.47v0.47h-0.47zM338.3 321.3h0.58v0.58h-0.58zM311.9 337.6h0.57v0.57h-0.57zM252.4 325.0h0.56v0.56h-0.56zM325.9 316.4h0.72v0.72h-0.72zM283.7 333.5h0.68v0.68h-0.68zM318.9 334.6h0.71v0.71h-0.71zM124.4 336.2h0.52v0.52h-0.52zM146.7 323.0h0.65v0.65h-0.65zM186.3 326.0h0.57v0.57h-0.57zM166.8 332.2h0.72v0.72h-0.72zM125.0 336.3h0.52v0.52h-0.52zM184.9 333.6h0.79v0.79h-0.79zM328.5 335.8h0.67v0.67h-0.67zM318.7 334.0h0.79v0.79h-0.79zM334.1 337.5h0.64v0.64h-0.64zM217.1 333.0h0.78v0.78h-0.78zM277.6 324.3h0.48v0.48h-0.48zM139.4 336.1h0.81v0.81h-0.81zM251.7 327.4h0.47v0.47h-0.47zM307.1 330.6h0.57v0.57h-0.57zM220.4 324.6h0.71v0.71h-0.71zM313.2 329.1h0.58v0.58h-0.58zM190.6 335.1h0.75v0.75h-0.75zM192.3 336.8h0.69v0.69h-0.69zM338.3 336.3h0.48v0.48h-0.48zM213.5 316.4h0.83v0.83h-0.83zM164.0 320.8h0.67v0.67h-0.67zM322.4 331.0h0.80v0.80h-0.80zM260.7 328.9h0.63v0.63h-0.63zM241.4 316.6h0.50v0.50h-0.50zM338.5 320.3h0.57v0.57h-0.57zM229.1 332.9h0.49v0.49h-0.49zM292.2 329.7h0.47v0.47h-0.47zM195.6 337.4h0.75v0.75h-0.75zM148.3 330.5h0.48v0.48h-0.48zM206.9 323.5h0.85v0.85h-0.85zM229.2 338.1h0.65v0.65h-0.65zM282.7 316.3h0.80v0.80h-0.80zM249.4 324.6h0.78v0.78h-0.78zM316.2 319.8h0.46v0.46h-0.46zM259.5 336.0h0.50v0.50h-0.50zM241.3 317.3h0.47v0.47h-0.47zM226.8 336.5h0.79v0.79h-0.79zM274.2 332.2h0.54v0.54h-0.54zM217.2 319.6h0.54v0.54h-0.54zM147.3 326.0h0.46v0.46h-0.46zM143.4 331.6h0.69v0.69h-0.69zM165.5 321.0h0.70v0.70h-0.70zM124.9 333.6h0.77v0.77h-0.77zM316.9 319.8h0.76v0.76h-0.76zM234.4 321.3h0.78v0.78h-0.78zM165.1 320.1h0.80v0.80h-0.80zM333.4 332.4h0.49v0.49h-0.49zM217.2 329.5h0.54v0.54h-0.54zM301.7 325.7h0.65v0.65h-0.65zM223.1 316.1h0.80v0.80h-0.80zM309.1 336.4h0.67v0.67h-0.67zM206.5 323.3h0.52v0.52h-0.52zM161.6 328.4h0.61v0.61h-0.61zM275.8 338.6h0.54v0.54h-0.54zM309.2 324.2h0.62v0.62h-0.62zM182.7 330.5h0.63v0.63h-0.63zM144.8 329.4h0.50v0.50h-0.50zM179.6 325.5h0.79v0.79h-0.79zM286.5 329.5h0.64v0.64h-0.64zM175.3 327.8h0.64v0.64h-0.64zM227.7 327.4h0.54v0.54h-0.54zM192.2 324.8h0.48v0.48h-0.48zM135.3 332.7h0.58v0.58h-0.58zM272.1 335.1h0.71v0.71h-0.71zM217.8 335.0h0.67v0.67h-0.67zM122.0 333.8h0.64v0.64h-0.64zM227.7 332.2h0.72v0.72h-0.72zM328.0 330.1h0.51v0.51h-0.51zM260.2 333.0h0.45v0.45h-0.45zM267.9 330.3h0.72v0.72h-0.72zM202.8 323.5h0.68v0.68h-0.68zM162.3 334.2h0.51v0.51h-0.51zM237.4 330.8h0.56v0.56h-0.56zM143.4 336.5h0.84v0.84h-0.84zM252.0 334.3h0.63v0.63h-0.63zM174.7 327.9h0.46v0.46h-0.46zM236.8 334.0h0.58v0.58h-0.58zM324.8 318.7h0.55v0.55h-0.55zM250.5 328.9h0.79v0.79h-0.79zM116.4 334.2h0.48v0.48h-0.48zM295.9 330.3h0.45v0.45h-0.45zM314.2 322.6h0.65v0.65h-0.65zM325.1 324.6h0.48v0.48h-0.48zM160.0 332.7h0.51v0.51h-0.51zM183.0 321.1h0.62v0.62h-0.62zM140.2 338.0h0.81v0.81h-0.81zM136.8 319.4h0.67v0.67h-0.67zM332.8 333.6h0.51v0.51h-0.51zM302.0 317.0h0.65v0.65h-0.65zM277.8 325.6h0.70v0.70h-0.70zM272.9 320.2h0.50v0.50h-0.50zM180.8 318.0h0.51v0.51h-0.51zM121.4 323.5h0.73v0.73h-0.73zM150.7 326.6h0.49v0.49h-0.49zM157.3 324.2h0.83v0.83h-0.83zM157.4 318.8h0.79v0.79h-0.79zM186.2 325.3h0.63v0.63h-0.63zM221.9 316.7h0.72v0.72h-0.72zM316.2 319.8h0.81v0.81h-0.81zM292.1 330.2h0.71v0.71h-0.71zM213.4 330.2h0.81v0.81h-0.81zM289.8 328.5h0.80v0.80h-0.80zM117.8 330.4h0.71v0.71h-0.71zM228.3 319.4h0.47v0.47h-0.47zM290.5 327.8h0.65v0.65h-0.65zM268.3 319.6h0.71v0.71h-0.71zM225.8 337.0h0.73v0.73h-0.73zM324.9 335.2h0.59v0.59h-0.59zM272.2 320.4h0.60v0.60h-0.60zM262.5 323.6h0.64v0.64h-0.64zM243.8 338.2h0.51v0.51h-0.51zM315.1 320.4h0.85v0.85h-0.85zM160.3 331.1h0.70v0.70h-0.70zM186.4 330.6h0.67v0.67h-0.67zM293.8 323.7h0.68v0.68h-0.68zM236.1 337.6h0.79v0.79h-0.79zM336.3 327.2h0.78v0.78h-0.78zM123.1 325.8h0.48v0.48h-0.48zM206.3 322.7h0.65v0.65h-0.65zM272.1 316.2h0.69v0.69h-0.69zM142.8 324.6h0.80v0.80h-0.80zM249.7 325.9h0.80v0.80h-0.80zM295.7 317.9h0.63v0.63h-0.63zM195.9 316.9h0.78v0.78h-0.78zM180.3 317.6h0.55v0.55h-0.55zM289.5 320.7h0.65v0.65h-0.65zM225.9 328.0h0.76v0.76h-0.76zM269.3 330.7h0.56v0.56h-0.56zM258.1 323.3h0.72v0.72h-0.72zM270.3 337.8h0.47v0.47h-0.47zM301.7 334.4h0.57v0.57h-0.57zM248.8 335.6h0.74v0.74h-0.74zM324.7 324.0h0.79v0.79h-0.79zM306.7 322.0h0.65v0.65h-0.65zM213.2 316.7h0.48v0.48h-0.48zM291.5 336.1h0.54v0.54h-0.54zM248.5 335.9h0.48v0.48h-0.48zM178.4 335.1h0.69v0.69h-0.69zM329.0 330.7h0.75v0.75h-0.75zM258.5 335.0h0.55v0.55h-0.55zM149.8 336.6h0.54v0.54h-0.54zM306.6 321.2h0.55v0.55h-0.55zM126.4 319.7h0.85v0.85h-0.85zM180.9 338.6h0.48v0.48h-0.48zM199.3 330.2h0.84v0.84h-0.84zM160.6 325.5h0.64v0.64h-0.64zM183.3 317.5h0.60v0.60h-0.60zM260.2 327.0h0.66v0.66h-0.66zM156.9 321.9h0.66v0.66h-0.66zM139.7 323.3h0.81v0.81h-0.81zM319.6 336.4h0.64v0.64h-0.64zM323.7 328.8h0.49v0.49h-0.49zM225.1 338.1h0.58v0.58h-0.58zM190.1 318.3h0.60v0.60h-0.60zM138.0 338.0h0.65v0.65h-0.65zM176.5 323.6h0.68v0.68h-0.68zM152.9 333.5h0.58v0.58h-0.58zM216.3 337.7h0.63v0.63h-0.63zM196.2 333.7h0.83v0.83h-0.83zM269.9 327.0h0.82v0.82h-0.82zM157.3 337.8h0.72v0.72h-0.72zM152.2 320.4h0.53v0.53h-0.53zM178.9 332.1h0.73v0.73h-0.73zM245.3 325.6h0.53v0.53h-0.53zM128.6 327.7h0.72v0.72h-0.72zM283.0 321.5h0.49v0.49h-0.49zM177.5 318.4h0.53v0.53h-0.53zM243.9 331.2h0.56v0.56h-0.56zM333.1 318.1h0.56v0.56h-0.56zM315.1 331.8h0.66v0.66h-0.66zM191.8 332.1h0.66v0.66h-0.66zM153.5 329.1h0.85v0.85h-0.85zM317.6 321.2h0.53v0.53h-0.53zM140.1 329.3h0.75v0.75h-0.75zM328.9 331.4h0.60v0.60h-0.60zM337.1 316.7h0.69v0.69h-0.69zM270.4 325.7h0.78v0.78h-0.78zM314.5 327.7h0.62v0.62h-0.62zM309.6 316.6h0.46v0.46h-0.46zM124.9 325.8h0.66v0.66h-0.66zM199.7 324.5h0.60v0.60h-0.60zM142.8 336.9h0.60v0.60h-0.60zM235.5 319.8h0.51v0.51h-0.51zM137.6 334.1h0.50v0.50h-0.50zM182.6 328.9h0.49v0.49h-0.49zM224.9 326.6h0.75v0.75h-0.75zM277.1 321.4h0.51v0.51h-0.51zM322.0 316.2h0.81v0.81h-0.81zM193.4 333.6h0.78v0.78h-0.78zM245.8 325.8h0.64v0.64h-0.64zM122.0 338.1h0.85v0.85h-0.85zM123.7 338.4h0.55v0.55h-0.55zM121.1 337.0h0.53v0.53h-0.53zM171.4 333.6h0.75v0.75h-0.75zM189.2 317.9h0.75v0.75h-0.75zM129.4 333.7h0.63v0.63h-0.63zM267.8 320.0h0.62v0.62h-0.62zM323.3 318.5h0.66v0.66h-0.66zM322.6 329.4h0.65v0.65h-0.65zM336.5 332.7h0.75v0.75h-0.75zM297.8 334.0h0.56v0.56h-0.56zM121.6 317.2h0.66v0.66h-0.66zM281.8 320.4h0.61v0.61h-0.61zM164.4 320.8h0.55v0.55h-0.55zM215.3 321.5h0.64v0.64h-0.64zM271.3 331.1h0.49v0.49h-0.49zM204.9 328.2h0.57v0.57h-0.57zM195.0 321.7h0.71v0.71h-0.71zM187.3 317.0h0.62v0.62h-0.62zM303.6 317.7h0.48v0.48h-0.48zM125.5 320.4h0.56v0.56h-0.56zM254.8 324.7h0.72v0.72h-0.72zM169.8 318.3h0.82v0.82h-0.82zM239.9 326.2h0.48v0.48h-0.48zM245.9 336.3h0.50v0.50h-0.50zM127.8 326.0h0.71v0.71h-0.71zM335.4 332.4h0.77v0.77h-0.77zM291.4 317.8h0.77v0.77h-0.77zM166.9 321.1h0.83v0.83h-0.83zM173.3 320.0h0.78v0.78h-0.78zM204.6 334.8h0.51v0.51h-0.51zM211.6 320.2h0.50v0.50h-0.50zM235.6 325.8h0.54v0.54h-0.54zM317.8 331.0h0.55v0.55h-0.55zM139.1 334.4h0.49v0.49h-0.49zM162.6 319.6h0.80v0.80h-0.80zM131.6 323.0h0.69v0.69h-0.69zM304.1 333.0h0.67v0.67h-0.67zM324.0 326.1h0.83v0.83h-0.83zM290.2 335.1h0.66v0.66h-0.66zM183.0 320.7h0.74v0.74h-0.74zM141.2 324.1h0.67v0.67h-0.67zM336.5 330.1h0.71v0.71h-0.71zM141.7 316.6h0.62v0.62h-0.62zM247.8 317.1h0.57v0.57h-0.57zM139.5 330.3h0.63v0.63h-0.63zM197.4 326.9h0.73v0.73h-0.73zM309.8 328.4h0.67v0.67h-0.67zM178.9 334.9h0.46v0.46h-0.46zM170.7 323.3h0.72v0.72h-0.72zM277.6 335.6h0.73v0.73h-0.73zM215.5 318.0h0.59v0.59h-0.59zM260.6 334.8h0.84v0.84h-0.84zM210.4 332.7h0.55v0.55h-0.55zM195.5 316.5h0.67v0.67h-0.67zM189.9 325.4h0.62v0.62h-0.62zM250.2 336.2h0.80v0.80h-0.80zM181.7 334.1h0.59v0.59h-0.59zM219.4 332.4h0.74v0.74h-0.74zM154.7 318.4h0.53v0.53h-0.53zM315.4 317.1h0.50v0.50h-0.50zM189.3 325.6h0.83v0.83h-0.83zM177.9 319.6h0.51v0.51h-0.51zM257.7 332.2h0.59v0.59h-0.59zM126.3 331.3h0.55v0.55h-0.55zM120.9 320.0h0.47v0.47h-0.47zM208.5 319.5h0.76v0.76h-0.76zM227.8 318.6h0.56v0.56h-0.56zM228.1 338.6h0.85v0.85h-0.85zM335.8 325.0h0.52v0.52h-0.52zM289.5 332.7h0.50v0.50h-0.50zM185.2 319.0h0.46v0.46h-0.46zM274.7 320.8h0.68v0.68h-0.68zM242.1 321.3h0.49v0.49h-0.49zM272.8 335.3h0.55v0.55h-0.55zM219.2 333.6h0.80v0.80h-0.80zM140.0 329.0h0.66v0.66h-0.66zM305.0 318.1h0.63v0.63h-0.63zM166.3 326.1h0.85v0.85h-0.85zM319.6 316.4h0.54v0.54h-0.54zM187.7 325.1h0.71v0.71h-0.71zM208.1 323.6h0.55v0.55h-0.55zM255.9 327.8h0.67v0.67h-0.67zM181.3 326.7h0.74v0.74h-0.74zM218.4 316.4h0.72v0.72h-0.72zM217.1 329.6h0.52v0.52h-0.52zM248.1 326.7h0.83v0.83h-0.83zM148.7 337.7h0.84v0.84h-0.84zM284.2 333.0h0.83v0.83h-0.83zM311.2 323.1h0.80v0.80h-0.80zM269.4 317.6h0.81v0.81h-0.81zM154.2 316.2h0.61v0.61h-0.61zM215.6 336.9h0.59v0.59h-0.59zM195.9 332.2h0.49v0.49h-0.49zM232.0 318.7h0.57v0.57h-0.57zM235.0 321.1h0.61v0.61h-0.61zM304.4 329.7h0.67v0.67h-0.67zM174.6 333.3h0.70v0.70h-0.70zM274.7 335.2h0.60v0.60h-0.60zM335.2 330.6h0.51v0.51h-0.51zM265.1 318.7h0.51v0.51h-0.51zM117.7 336.4h0.54v0.54h-0.54zM157.3 328.1h0.59v0.59h-0.59zM171.0 320.0h0.73v0.73h-0.73zM149.8 336.8h0.78v0.78h-0.78zM125.8 324.6h0.80v0.80h-0.80zM185.2 325.2h0.47v0.47h-0.47zM236.1 334.2h0.67v0.67h-0.67zM127.9 320.0h0.52v0.52h-0.52zM296.1 327.4h0.73v0.73h-0.73zM286.9 331.0h0.80v0.80h-0.80zM178.3 328.2h0.74v0.74h-0.74zM278.3 318.6h0.56v0.56h-0.56zM180.7 320.6h0.84v0.84h-0.84zM290.7 337.4h0.78v0.78h-0.78zM264.6 332.9h0.58v0.58h-0.58zM141.2 335.4h0.65v0.65h-0.65zM237.0 319.8h0.47v0.47h-0.47zM324.2 317.9h0.70v0.70h-0.70zM246.5 331.7h0.65v0.65h-0.65zM146.0 334.3h0.48v0.48h-0.48zM317.5 337.6h0.46v0.46h-0.46zM252.5 321.3h0.48v0.48h-0.48zM299.5 326.4h0.55v0.55h-0.55zM153.9 323.2h0.70v0.70h-0.70zM249.1 319.1h0.60v0.60h-0.60zM318.4 316.6h0.74v0.74h-0.74zM124.0 331.9h0.72v0.72h-0.72zM180.6 332.7h0.48v0.48h-0.48zM158.9 337.8h0.69v0.69h-0.69zM332.2 328.6h0.45v0.45h-0.45zM125.9 322.6h0.57v0.57h-0.57zM327.3 331.0h0.64v0.64h-0.64zM248.5 336.1h0.60v0.60h-0.60zM235.4 324.6h0.77v0.77h-0.77zM300.2 337.3h0.54v0.54h-0.54zM173.8 337.7h0.65v0.65h-0.65zM142.7 323.0h0.47v0.47h-0.47zM134.1 326.0h0.77v0.77h-0.77zM217.0 324.0h0.64v0.64h-0.64zM253.8 333.4h0.77v0.77h-0.77zM272.7 325.2h0.51v0.51h-0.51zM224.8 336.7h0.82v0.82h-0.82zM148.0 333.4h0.62v0.62h-0.62zM154.3 338.0h0.53v0.53h-0.53zM326.9 330.9h0.55v0.55h-0.55zM241.8 336.5h0.56v0.56h-0.56zM191.5 318.8h0.56v0.56h-0.56zM246.8 335.1h0.58v0.58h-0.58zM295.3 335.8h0.57v0.57h-0.57zM292.0 319.2h0.67v0.67h-0.67zM240.0 336.4h0.73v0.73h-0.73zM151.0 331.3h0.49v0.49h-0.49zM332.2 325.9h0.64v0.64h-0.64zM301.3 332.2h0.62v0.62h-0.62zM304.4 319.6h0.52v0.52h-0.52zM315.5 323.3h0.71v0.71h-0.71zM210.8 322.4h0.49v0.49h-0.49zM275.9 335.1h0.51v0.51h-0.51zM245.2 320.5h0.71v0.71h-0.71zM222.6 318.3h0.84v0.84h-0.84zM309.7 326.1h0.81v0.81h-0.81zM258.7 318.4h0.62v0.62h-0.62zM304.9 338.4h0.70v0.70h-0.70zM247.1 337.3h0.52v0.52h-0.52zM191.0 318.5h0.77v0.77h-0.77zM334.5 319.7h0.57v0.57h-0.57zM169.7 334.5h0.77v0.77h-0.77zM126.2 329.0h0.81v0.81h-0.81zM157.3 320.8h0.55v0.55h-0.55zM301.1 322.0h0.52v0.52h-0.52zM163.1 321.6h0.80v0.80h-0.80zM206.1 333.1h0.80v0.80h-0.80zM138.5 333.0h0.63v0.63h-0.63zM223.5 316.6h0.54v0.54h-0.54zM191.9 323.2h0.61v0.61h-0.61zM259.9 328.2h0.54v0.54h-0.54zM207.1 330.1h0.77v0.77h-0.77zM281.8 331.4h0.68v0.68h-0.68zM232.7 333.2h0.56v0.56h-0.56zM299.9 336.6h0.78v0.78h-0.78zM160.4 317.2h0.54v0.54h-0.54zM328.1 336.5h0.85v0.85h-0.85zM227.6 318.8h0.72v0.72h-0.72zM316.0 325.8h0.45v0.45h-0.45zM171.2 327.1h0.51v0.51h-0.51zM156.2 334.6h0.80v0.80h-0.80zM210.8 330.5h0.82v0.82h-0.82zM144.9 325.0h0.45v0.45h-0.45zM179.6 324.7h0.74v0.74h-0.74zM230.2 321.3h0.48v0.48h-0.48zM123.6 317.9h0.47v0.47h-0.47zM179.4 334.1h0.73v0.73h-0.73zM149.3 318.2h0.71v0.71h-0.71zM337.8 322.9h0.76v0.76h-0.76zM319.9 332.0h0.70v0.70h-0.70zM256.6 332.8h0.81v0.81h-0.81zM139.2 326.6h0.64v0.64h-0.64zM213.0 318.5h0.82v0.82h-0.82zM198.6 320.6h0.64v0.64h-0.64zM273.7 324.7h0.66v0.66h-0.66zM238.4 335.0h0.68v0.68h-0.68zM260.0 322.0h0.82v0.82h-0.82zM147.3 324.9h0.69v0.69h-0.69zM194.3 329.7h0.52v0.52h-0.52zM146.2 322.3h0.79v0.79h-0.79zM140.4 316.5h0.48v0.48h-0.48zM251.5 331.1h0.77v0.77h-0.77zM318.6 326.0h0.76v0.76h-0.76zM135.7 334.2h0.61v0.61h-0.61zM227.1 334.6h0.77v0.77h-0.77zM195.0 334.1h0.49v0.49h-0.49zM118.7 327.5h0.71v0.71h-0.71zM297.0 328.6h0.69v0.69h-0.69zM128.5 322.6h0.84v0.84h-0.84zM212.4 329.3h0.58v0.58h-0.58zM330.7 328.8h0.84v0.84h-0.84zM235.5 330.9h0.57v0.57h-0.57zM125.8 318.6h0.62v0.62h-0.62zM242.0 321.0h0.79v0.79h-0.79zM307.7 331.4h0.57v0.57h-0.57zM242.5 316.6h0.63v0.63h-0.63zM186.2 328.5h0.71v0.71h-0.71zM227.8 318.2h0.66v0.66h-0.66zM189.6 324.4h0.58v0.58h-0.58zM300.9 322.7h0.57v0.57h-0.57zM168.6 336.8h0.66v0.66h-0.66zM247.2 329.6h0.55v0.55h-0.55zM210.8 326.6h0.83v0.83h-0.83zM306.3 334.2h0.50v0.50h-0.50zM236.5 319.0h0.77v0.77h-0.77zM271.7 324.2h0.73v0.73h-0.73zM322.9 325.1h0.52v0.52h-0.52zM259.8 322.9h0.77v0.77h-0.77zM154.3 330.6h0.66v0.66h-0.66zM207.5 336.3h0.83v0.83h-0.83zM201.3 331.6h0.53v0.53h-0.53zM263.4 328.8h0.84v0.84h-0.84zM177.2 331.0h0.61v0.61h-0.61zM202.1 324.9h0.51v0.51h-0.51zM228.5 323.7h0.67v0.67h-0.67zM120.9 317.9h0.72v0.72h-0.72zM129.8 328.7h0.52v0.52h-0.52zM193.9 333.8h0.81v0.81h-0.81zM216.5 323.6h0.69v0.69h-0.69zM335.2 336.2h0.52v0.52h-0.52zM236.1 320.1h0.49v0.49h-0.49zM314.4 328.1h0.64v0.64h-0.64zM308.2 328.0h0.51v0.51h-0.51zM237.2 338.2h0.77v0.77h-0.77zM332.1 322.6h0.48v0.48h-0.48zM159.2 336.9h0.83v0.83h-0.83zM162.3 326.6h0.63v0.63h-0.63zM255.4 333.9h0.49v0.49h-0.49zM326.5 325.2h0.55v0.55h-0.55zM246.9 326.5h0.62v0.62h-0.62zM263.4 318.1h0.63v0.63h-0.63zM160.8 317.4h0.68v0.68h-0.68zM119.8 335.1h0.76v0.76h-0.76zM246.3 330.3h0.68v0.68h-0.68zM312.7 327.1h0.51v0.51h-0.51zM202.8 336.3h0.64v0.64h-0.64zM190.8 319.7h0.49v0.49h-0.49zM335.1 333.9h0.72v0.72h-0.72zM188.6 325.9h0.53v0.53h-0.53zM178.1 331.5h0.47v0.47h-0.47zM225.9 327.6h0.47v0.47h-0.47zM170.1 332.9h0.83v0.83h-0.83zM171.5 322.3h0.62v0.62h-0.62zM231.1 326.3h0.64v0.64h-0.64zM240.8 336.9h0.73v0.73h-0.73zM152.2 318.7h0.75v0.75h-0.75zM265.9 332.1h0.53v0.53h-0.53zM159.9 331.2h0.53v0.53h-0.53zM188.0 332.5h0.64v0.64h-0.64zM123.1 335.0h0.78v0.78h-0.78zM125.7 326.2h0.48v0.48h-0.48zM119.6 336.1h0.75v0.75h-0.75zM226.6 318.0h0.54v0.54h-0.54zM143.9 317.2h0.61v0.61h-0.61zM189.4 330.3h0.62v0.62h-0.62zM125.6 336.0h0.45v0.45h-0.45zM121.0 333.9h0.62v0.62h-0.62zM162.7 338.4h0.46v0.46h-0.46zM303.1 335.4h0.79v0.79h-0.79zM223.4 327.2h0.60v0.60h-0.60zM134.9 324.7h0.58v0.58h-0.58zM329.5 330.3h0.61v0.61h-0.61zM329.5 327.4h0.66v0.66h-0.66zM136.1 318.3h0.71v0.71h-0.71zM225.3 325.9h0.65v0.65h-0.65zM118.2 332.6h0.64v0.64h-0.64zM286.1 335.3h0.57v0.57h-0.57zM249.6 325.6h0.69v0.69h-0.69zM263.8 316.2h0.64v0.64h-0.64zM315.6 324.0h0.64v0.64h-0.64zM136.0 330.3h0.69v0.69h-0.69zM124.5 323.0h0.54v0.54h-0.54zM299.4 325.1h0.80v0.80h-0.80zM293.3 331.0h0.62v0.62h-0.62zM312.3 330.4h0.68v0.68h-0.68zM145.7 332.7h0.57v0.57h-0.57zM316.7 317.1h0.57v0.57h-0.57zM263.3 319.4h0.73v0.73h-0.73zM271.2 333.4h0.55v0.55h-0.55zM318.5 319.8h0.56v0.56h-0.56zM278.3 335.0h0.75v0.75h-0.75zM275.0 338.2h0.76v0.76h-0.76zM251.6 319.3h0.77v0.77h-0.77zM297.9 318.4h0.63v0.63h-0.63zM313.1 337.6h0.51v0.51h-0.51zM214.0 335.2h0.83v0.83h-0.83zM177.9 324.5h0.66v0.66h-0.66zM292.7 317.3h0.50v0.50h-0.50zM302.2 316.1h0.78v0.78h-0.78zM266.8 333.0h0.58v0.58h-0.58zM128.7 324.7h0.82v0.82h-0.82zM235.2 317.0h0.80v0.80h-0.80zM305.6 326.5h0.75v0.75h-0.75zM222.8 335.0h0.50v0.50h-0.50zM313.3 319.6h0.57v0.57h-0.57zM316.7 317.3h0.82v0.82h-0.82zM171.0 336.4h0.52v0.52h-0.52zM211.7 327.9h0.77v0.77h-0.77zM334.1 338.2h0.50v0.50h-0.50zM154.5 332.1h0.61v0.61h-0.61zM145.5 331.4h0.63v0.63h-0.63zM294.9 329.8h0.52v0.52h-0.52zM251.6 324.5h0.51v0.51h-0.51zM269.7 316.6h0.80v0.80h-0.80zM158.2 323.0h0.45v0.45h-0.45zM185.7 332.8h0.82v0.82h-0.82zM266.0 334.3h0.67v0.67h-0.67zM212.7 318.2h0.61v0.61h-0.61zM153.3 320.8h0.82v0.82h-0.82zM203.4 318.9h0.63v0.63h-0.63zM124.5 337.4h0.70v0.70h-0.70zM139.0 325.1h0.53v0.53h-0.53zM245.5 325.9h0.59v0.59h-0.59zM215.3 324.3h0.79v0.79h-0.79zM310.9 317.6h0.62v0.62h-0.62zM178.6 318.8h0.62v0.62h-0.62zM213.1 320.3h0.80v0.80h-0.80zM292.5 323.0h0.70v0.70h-0.70zM132.9 318.8h0.48v0.48h-0.48zM213.0 325.8h0.65v0.65h-0.65zM202.0 321.3h0.73v0.73h-0.73zM257.6 327.7h0.53v0.53h-0.53zM301.7 337.9h0.59v0.59h-0.59zM257.7 328.7h0.74v0.74h-0.74zM131.7 325.0h0.51v0.51h-0.51zM205.4 319.0h0.58v0.58h-0.58zM300.4 322.6h0.80v0.80h-0.80zM287.9 329.4h0.69v0.69h-0.69zM253.1 320.0h0.55v0.55h-0.55zM225.8 316.5h0.73v0.73h-0.73zM293.1 322.3h0.66v0.66h-0.66zM225.0 335.9h0.80v0.80h-0.80zM209.2 316.6h0.85v0.85h-0.85zM277.4 331.9h0.72v0.72h-0.72zM133.6 330.5h0.85v0.85h-0.85zM182.8 320.7h0.60v0.60h-0.60zM262.3 331.6h0.63v0.63h-0.63zM210.6 324.9h0.54v0.54h-0.54zM182.4 318.7h0.75v0.75h-0.75zM284.5 337.3h0.71v0.71h-0.71zM241.6 330.4h0.55v0.55h-0.55zM254.4 327.6h0.85v0.85h-0.85zM187.1 324.8h0.85v0.85h-0.85zM278.0 316.9h0.65v0.65h-0.65zM228.2 331.1h0.78v0.78h-0.78zM125.3 322.8h0.48v0.48h-0.48zM161.3 327.4h0.57v0.57h-0.57zM316.2 325.4h0.48v0.48h-0.48zM278.2 320.0h0.53v0.53h-0.53zM133.5 319.6h0.66v0.66h-0.66zM281.6 324.3h0.51v0.51h-0.51zM186.0 325.8h0.50v0.50h-0.50zM130.4 323.4h0.79v0.79h-0.79zM203.8 332.5h0.60v0.60h-0.60zM335.3 322.1h0.64v0.64h-0.64zM148.6 333.3h0.83v0.83h-0.83zM316.4 333.3h0.50v0.50h-0.50zM274.3 334.4h0.76v0.76h-0.76zM127.3 323.0h0.60v0.60h-0.60zM174.5 321.4h0.77v0.77h-0.77zM238.1 324.8h0.70v0.70h-0.70zM184.7 316.3h0.73v0.73h-0.73zM210.1 330.4h0.60v0.60h-0.60zM225.5 329.0h0.54v0.54h-0.54zM159.7 330.4h0.67v0.67h-0.67zM220.6 324.1h0.73v0.73h-0.73zM320.8 318.0h0.80v0.80h-0.80zM242.7 333.1h0.69v0.69h-0.69zM269.2 330.3h0.71v0.71h-0.71zM225.2 325.9h0.71v0.71h-0.71zM247.9 320.8h0.84v0.84h-0.84zM218.8 336.2h0.58v0.58h-0.58zM288.5 331.8h0.57v0.57h-0.57zM268.3 319.2h0.75v0.75h-0.75zM293.9 330.2h0.79v0.79h-0.79zM177.1 327.2h0.52v0.52h-0.52zM318.0 338.4h0.61v0.61h-0.61zM319.7 320.5h0.51v0.51h-0.51zM206.2 322.6h0.60v0.60h-0.60zM245.8 337.9h0.57v0.57h-0.57zM284.5 325.4h0.71v0.71h-0.71zM215.5 336.3h0.76v0.76h-0.76zM266.1 336.9h0.59v0.59h-0.59zM261.5 338.0h0.74v0.74h-0.74zM162.9 321.3h0.76v0.76h-0.76zM293.0 322.0h0.59v0.59h-0.59zM277.6 330.7h0.56v0.56h-0.56zM228.6 337.7h0.50v0.50h-0.50zM195.2 330.5h0.59v0.59h-0.59zM227.5 325.8h0.48v0.48h-0.48zM321.7 327.4h0.60v0.60h-0.60zM229.6 334.7h0.47v0.47h-0.47zM207.8 330.2h0.55v0.55h-0.55zM153.7 327.4h0.81v0.81h-0.81zM167.8 321.9h0.73v0.73h-0.73zM165.9 321.7h0.55v0.55h-0.55zM157.2 327.9h0.50v0.50h-0.50zM266.6 327.3h0.79v0.79h-0.79zM197.1 317.4h0.72v0.72h-0.72zM164.8 327.8h0.64v0.64h-0.64zM122.8 323.9h0.48v0.48h-0.48zM191.6 327.1h0.66v0.66h-0.66zM313.5 337.7h0.70v0.70h-0.70zM229.5 319.5h0.60v0.60h-0.60zM181.2 329.3h0.58v0.58h-0.58zM130.5 326.9h0.76v0.76h-0.76zM159.5 333.6h0.46v0.46h-0.46zM223.8 327.1h0.53v0.53h-0.53zM226.3 338.0h0.73v0.73h-0.73zM216.8 337.9h0.54v0.54h-0.54zM285.5 323.7h0.51v0.51h-0.51zM155.7 328.7h0.71v0.71h-0.71zM194.4 317.9h0.49v0.49h-0.49zM234.9 322.8h0.70v0.70h-0.70zM294.8 326.6h0.56v0.56h-0.56zM190.1 334.5h0.78v0.78h-0.78zM155.0 320.1h0.53v0.53h-0.53zM190.5 329.2h0.53v0.53h-0.53zM277.1 317.5h0.72v0.72h-0.72zM232.2 335.2h0.47v0.47h-0.47zM141.2 328.0h0.65v0.65h-0.65zM325.5 331.0h0.55v0.55h-0.55zM319.8 325.4h0.68v0.68h-0.68zM232.1 322.2h0.63v0.63h-0.63zM159.5 335.6h0.55v0.55h-0.55zM118.9 330.5h0.72v0.72h-0.72zM173.6 327.1h0.59v0.59h-0.59zM315.7 325.9h0.73v0.73h-0.73zM227.1 338.4h0.65v0.65h-0.65zM244.8 335.3h0.80v0.80h-0.80zM204.3 319.2h0.76v0.76h-0.76zM152.2 333.7h0.61v0.61h-0.61zM310.8 327.5h0.82v0.82h-0.82zM175.5 318.0h0.50v0.50h-0.50zM322.4 324.3h0.49v0.49h-0.49zM305.1 328.2h0.52v0.52h-0.52zM229.7 319.2h0.49v0.49h-0.49zM164.9 321.3h0.47v0.47h-0.47zM153.6 318.2h0.64v0.64h-0.64zM309.3 330.9h0.80v0.80h-0.80zM160.3 325.3h0.75v0.75h-0.75zM255.8 319.3h0.72v0.72h-0.72zM217.5 326.7h0.47v0.47h-0.47zM238.3 320.8h0.58v0.58h-0.58zM317.2 332.6h0.63v0.63h-0.63zM139.1 333.0h0.58v0.58h-0.58zM230.2 337.4h0.68v0.68h-0.68zM146.2 331.6h0.47v0.47h-0.47zM173.4 316.3h0.68v0.68h-0.68zM207.8 317.3h0.58v0.58h-0.58zM254.7 317.6h0.55v0.55h-0.55zM230.1 327.8h0.51v0.51h-0.51zM171.7 322.8h0.69v0.69h-0.69zM212.3 323.4h0.50v0.50h-0.50zM224.7 320.1h0.50v0.50h-0.50zM120.9 328.9h0.51v0.51h-0.51zM124.2 332.1h0.80v0.80h-0.80zM265.0 336.7h0.81v0.81h-0.81zM165.8 331.2h0.63v0.63h-0.63zM300.5 335.7L298.6 335.7L298.3 334.4L300.3 334.3ZM320.6 337.9L318.9 338.5L318.6 336.1L319.7 335.8ZM208.7 322.8L207.3 323.2L206.3 322.1L207.2 321.0L209.1 321.3ZM327.7 324.4L327.0 324.1L327.5 323.3L328.3 322.9L328.4 324.0ZM333.4 322.8L333.9 321.8L335.2 321.6L335.8 323.0L334.2 323.5ZM298.4 324.1L296.3 323.9L296.4 322.2L298.6 322.7ZM333.5 335.0L334.2 333.1L335.6 334.0ZM266.3 326.8L267.6 328.4L265.9 329.1ZM247.7 336.6L249.2 337.1L248.3 338.6L247.0 338.4ZM307.2 319.6L307.9 317.9L308.6 317.2L309.8 318.7L309.0 319.8ZM193.7 334.0L194.6 335.5L193.4 336.4L192.3 335.4ZM289.3 320.0L288.2 319.3L288.5 317.8L289.5 318.6ZM309.9 319.8L310.4 318.7L310.9 319.5ZM197.5 319.8L196.6 319.7L195.9 318.3L196.5 317.9L197.7 318.8ZM147.1 330.9L147.4 330.1L148.4 330.4L148.2 331.6ZM233.6 329.2L232.7 330.9L231.6 330.4L231.1 328.5ZM185.5 326.3L184.8 325.8L184.5 325.4L185.4 324.9L186.3 325.3ZM321.1 327.7L320.1 325.8L321.3 325.1L323.0 325.8L322.2 327.7ZM194.6 323.7L194.3 322.0L195.9 322.8ZM236.8 328.3L238.6 326.6L239.3 328.5L237.5 328.9ZM166.4 320.8L167.2 321.8L167.0 322.8L165.8 322.2L165.8 321.4ZM328.8 332.5L329.6 332.4L330.8 332.7L330.7 333.9L329.3 333.8ZM259.2 331.5L259.9 330.3L261.0 331.3L260.9 332.4L258.9 332.4ZM131.7 326.1L133.0 324.5L133.2 325.8ZM248.2 324.7L248.4 323.5L249.7 323.6L249.7 324.2L249.2 325.0ZM202.9 324.0L202.8 322.3L204.6 323.0ZM273.2 328.2L273.2 325.8L274.9 326.3L274.9 328.3ZM309.6 321.5L309.1 322.9L308.0 321.9L309.1 320.8ZM318.0 322.8L318.8 324.3L317.7 324.5L317.3 323.9ZM205.8 322.8L205.0 323.2L204.0 322.1L205.7 321.4ZM171.3 334.0L170.5 334.6L170.4 333.1ZM216.1 328.8L217.2 328.7L216.4 330.1L215.3 329.5ZM321.2 329.0L321.4 327.3L323.0 327.0L322.8 328.7ZM334.5 327.7L335.1 328.2L334.4 328.8L333.3 328.7L333.7 327.9ZM214.0 330.3L211.9 330.1L211.5 329.2L212.7 327.9L213.8 329.5ZM130.1 331.8L128.5 332.0L130.0 330.4ZM220.1 321.4L217.7 321.1L218.2 319.2L220.2 320.0ZM140.5 329.7L141.4 328.9L142.7 329.5L141.4 331.1ZM238.8 322.8L239.1 325.2L237.4 324.0ZM234.0 333.7L234.0 332.6L235.4 333.6ZM322.2 330.5L324.2 330.7L323.3 332.0ZM189.9 323.2L191.1 323.8L190.4 324.7ZM313.7 327.8L311.8 328.9L312.1 326.0ZM281.4 323.5L283.0 324.5L280.1 325.1ZM183.0 323.2L182.6 322.5L182.8 321.5L184.4 321.8L184.1 323.3ZM301.1 319.3L301.9 317.7L302.7 319.2ZM266.2 330.1L266.5 328.3L268.9 328.2L268.7 330.0L267.9 330.7ZM185.4 323.1L186.8 323.9L185.9 324.9ZM335.4 320.2L335.1 322.4L333.6 322.2L333.7 320.9ZM183.7 320.2L182.4 320.4L183.5 318.4ZM253.4 326.7L252.3 325.6L253.2 324.9ZM125.4 324.1L124.9 323.2L125.7 322.4L126.8 322.9L126.4 323.8ZM337.7 332.3L337.4 332.9L336.7 332.6L336.5 331.9L337.4 331.5ZM193.5 324.9L193.6 323.1L195.2 323.6ZM300.3 327.0L301.3 326.2L301.3 327.9ZM253.3 326.3L251.4 324.9L253.3 323.9ZM139.1 329.3L138.2 329.0L138.5 327.9L139.5 328.5ZM306.8 319.6L307.6 319.1L308.7 319.6L308.7 320.6L307.5 321.6ZM261.6 318.2L260.9 320.0L260.6 318.5ZM195.5 337.0L195.3 335.8L197.4 335.4L197.1 337.2ZM274.5 328.8L275.7 330.8L273.7 330.5ZM273.2 328.5L271.9 327.1L273.5 325.9L273.8 327.4ZM224.4 327.4L225.0 326.7L225.9 326.8L225.9 328.1L224.6 328.2ZM142.4 318.4L142.1 317.3L143.0 316.5L143.8 317.0L142.9 318.1ZM186.7 318.9L187.7 318.5L188.1 319.6L187.5 320.8L186.9 320.3ZM280.5 325.4L280.4 324.4L281.2 324.0L282.2 324.8L281.2 325.8ZM308.4 336.6L309.5 337.2L309.1 338.5L307.6 338.4L307.5 337.6ZM225.3 319.3L223.9 318.1L225.3 317.1ZM275.3 330.9L276.7 331.9L275.7 332.8ZM167.6 319.5L168.1 321.0L166.4 320.9L166.2 319.4L166.8 318.6ZM164.9 321.7L165.8 322.9L163.9 322.6ZM137.1 327.5L135.5 327.4L135.7 326.2L136.1 325.2L137.4 326.1ZM137.3 322.4L135.9 322.8L135.4 321.9L136.5 321.4ZM243.6 327.0L243.1 326.1L244.2 325.6L244.5 326.4Z" fill="#1a1a1a"/>
<clipPath id="c2"><path d="M396.1 136H413.4V453.4H396.1Z"/></clipPath>
<path clip-path="url(#c2)" d="M385.60 136.00L68.20 453.40M394.10 136.00L76.70 453.40M402.60 136.00L85.20 453.40M411.10 136.00L93.70 453.40M419.60 136.00L102.20 453.40M428.10 136.00L110.70 453.40M436.60 136.00L119.20 453.40M445.10 136.00L127.70 453.40M453.60 136.00L136.20 453.40M462.10 136.00L144.70 453.40M470.60 136.00L153.20 453.40M479.10 136.00L161.70 453.40M487.60 136.00L170.20 453.40M496.10 136.00L178.70 453.40M504.60 136.00L187.20 453.40M513.10 136.00L195.70 453.40M521.60 136.00L204.20 453.40M530.10 136.00L212.70 453.40M538.60 136.00L221.20 453.40M547.10 136.00L229.70 453.40M555.60 136.00L238.20 453.40M564.10 136.00L246.70 453.40M572.60 136.00L255.20 453.40M581.10 136.00L263.70 453.40M589.60 136.00L272.20 453.40M598.10 136.00L280.70 453.40M606.60 136.00L289.20 453.40M615.10 136.00L297.70 453.40M623.60 136.00L306.20 453.40M632.10 136.00L314.70 453.40M640.60 136.00L323.20 453.40M649.10 136.00L331.70 453.40M657.60 136.00L340.20 453.40M666.10 136.00L348.70 453.40M674.60 136.00L357.20 453.40M683.10 136.00L365.70 453.40M691.60 136.00L374.20 453.40M700.10 136.00L382.70 453.40M708.60 136.00L391.20 453.40M717.10 136.00L399.70 453.40M725.60 136.00L408.20 453.40M734.10 136.00L416.70 453.40" fill="none" stroke="#1e1e1e" stroke-width="1.1" stroke-dasharray="24 1.8 1 1.8"/>
<path d="M396.1 136V453.4M413.4 136V453.4" fill="none" stroke="#181818" stroke-width="1.45"/>
<clipPath id="c3"><path d="M668.7 136H693.0V501.9H668.7Z"/></clipPath>
<path clip-path="url(#c3)" d="M664.00 136.00L298.10 501.90M672.50 136.00L306.60 501.90M681.00 136.00L315.10 501.90M689.50 136.00L323.60 501.90M698.00 136.00L332.10 501.90M706.50 136.00L340.60 501.90M715.00 136.00L349.10 501.90M723.50 136.00L357.60 501.90M732.00 136.00L366.10 501.90M740.50 136.00L374.60 501.90M749.00 136.00L383.10 501.90M757.50 136.00L391.60 501.90M766.00 136.00L400.10 501.90M774.50 136.00L408.60 501.90M783.00 136.00L417.10 501.90M791.50 136.00L425.60 501.90M800.00 136.00L434.10 501.90M808.50 136.00L442.60 501.90M817.00 136.00L451.10 501.90M825.50 136.00L459.60 501.90M834.00 136.00L468.10 501.90M842.50 136.00L476.60 501.90M851.00 136.00L485.10 501.90M859.50 136.00L493.60 501.90M868.00 136.00L502.10 501.90M876.50 136.00L510.60 501.90M885.00 136.00L519.10 501.90M893.50 136.00L527.60 501.90M902.00 136.00L536.10 501.90M910.50 136.00L544.60 501.90M919.00 136.00L553.10 501.90M927.50 136.00L561.60 501.90M936.00 136.00L570.10 501.90M944.50 136.00L578.60 501.90M953.00 136.00L587.10 501.90M961.50 136.00L595.60 501.90M970.00 136.00L604.10 501.90M978.50 136.00L612.60 501.90M987.00 136.00L621.10 501.90M995.50 136.00L629.60 501.90M1004.00 136.00L638.10 501.90M1012.50 136.00L646.60 501.90M1021.00 136.00L655.10 501.90M1029.50 136.00L663.60 501.90M1038.00 136.00L672.10 501.90M1046.50 136.00L680.60 501.90M1055.00 136.00L689.10 501.90M1063.50 136.00L697.60 501.90" fill="none" stroke="#1e1e1e" stroke-width="1.1" stroke-dasharray="24 1.8 1 1.8"/>
<path d="M668.7 136V501.9H693.0V136" fill="none" stroke="#181818" stroke-width="1.45"/>
<clipPath id="c4"><path d="M605.7 453.5H668.7V477.6H605.7ZM611.2 477.6H668.7V501.9H611.2Z"/></clipPath>
<path clip-path="url(#c4)" d="M595.10 453.50L546.70 501.90M603.60 453.50L555.20 501.90M612.10 453.50L563.70 501.90M620.60 453.50L572.20 501.90M629.10 453.50L580.70 501.90M637.60 453.50L589.20 501.90M646.10 453.50L597.70 501.90M654.60 453.50L606.20 501.90M663.10 453.50L614.70 501.90M671.60 453.50L623.20 501.90M680.10 453.50L631.70 501.90M688.60 453.50L640.20 501.90M697.10 453.50L648.70 501.90M705.60 453.50L657.20 501.90M714.10 453.50L665.70 501.90M722.60 453.50L674.20 501.90" fill="none" stroke="#1e1e1e" stroke-width="1.1" stroke-dasharray="24 1.8 1 1.8"/>
<path d="M605.7 453.5V482.5M605.7 477.6H668.7M611.2 477.6V501.9H668.7" fill="none" stroke="#1e1e1e" stroke-width="1.1"/>
<path d="M419.10 136A18.9 18.9 0 0 0 432.2 141.3H479.5A18.9 18.9 0 0 1 479.5 179.10000000000002H432.2A18.9 18.9 0 0 0 432.2 216.9H479.5A18.9 18.9 0 0 1 479.5 254.7H432.2A18.9 18.9 0 0 0 432.2 292.5H479.5A18.9 18.9 0 0 1 479.5 330.3H432.2A18.9 18.9 0 0 0 432.2 368.1" fill="none" stroke="#1e1e1e" stroke-width="1.1"/>
<path d="M504.10 136A18.9 18.9 0 0 0 517.2 141.3H649.9A18.9 18.9 0 0 1 649.9 179.10000000000002H517.2A18.9 18.9 0 0 0 517.2 216.9H649.9A18.9 18.9 0 0 1 649.9 254.7H517.2A18.9 18.9 0 0 0 517.2 292.5H649.9A18.9 18.9 0 0 1 649.9 330.3H517.2A18.9 18.9 0 0 0 517.2 368.1" fill="none" stroke="#1e1e1e" stroke-width="1.1"/>
<path d="M498.3 136V453.4M413.4 368.1H668.7M413.4 453.4H668.7" fill="none" stroke="#1e1e1e" stroke-width="1.1"/>
<path d="M413.4 368.1L498.3 453.4M498.3 368.1L413.4 453.4M498.3 368.1L668.7 453.4M668.7 368.1L498.3 453.4" fill="none" stroke="#1e1e1e" stroke-width="1.1"/>
<path d="M396.8 455.5C400 456 405 457 407.5 462C409 468 412 469.5 416 469.5C420 469.5 423 468 424.5 462C426 457 428 455 432 455" fill="none" stroke="#1e1e1e" stroke-width="1.1"/>
<path d="M424.4 462A7.6 7.6 0 0 1 439.6 462V473A7.6 7.6 0 0 0 454.9 473V462A7.6 7.6 0 0 1 470.2 462V473A7.6 7.6 0 0 0 485.5 473V462A7.6 7.6 0 0 1 500.8 462V473A7.6 7.6 0 0 0 516.1 473V462A7.6 7.6 0 0 1 531.4 462V473A7.6 7.6 0 0 0 546.7 473V462A7.6 7.6 0 0 1 562.0 462V474" fill="none" stroke="#1e1e1e" stroke-width="1.1"/>
<path d="M396.1 453.4H605.7" fill="none" stroke="#1e1e1e" stroke-width="1.1"/>
<clipPath id="c5"><path d="M588 453.5H605.7V482H588Z"/></clipPath>
<path clip-path="url(#c5)" d="M578.10 453.50L549.60 482.00M586.60 453.50L558.10 482.00M595.10 453.50L566.60 482.00M603.60 453.50L575.10 482.00M612.10 453.50L583.60 482.00M620.60 453.50L592.10 482.00M629.10 453.50L600.60 482.00M637.60 453.50L609.10 482.00" fill="none" stroke="#1e1e1e" stroke-width="1.1" stroke-dasharray="24 1.8 1 1.8"/>
<ellipse cx="582.1" cy="467.3" rx="17.8" ry="13.6" fill="#fff" stroke="#1e1e1e" stroke-width="1.1"/>
<path d="M340.4 427.4V453.5H395.5V468.5Q395.5 471 398 471" fill="none" stroke="#1a1a1a" stroke-width="2.7"/>
<path d="M340.4 427.4V453.5H395.5V468.5Q395.5 471 398 471" fill="none" stroke="#fff" stroke-width="0.8"/>
<path d="M397 471.2H430Q431.6 471.2 431.6 472.8V478.6Q431.6 480.6 430 480.6H396.6" fill="none" stroke="#0a0a0a" stroke-width="2.1"/>
<path d="M398.6 475.7H428.4L427.4 477.6" fill="none" stroke="#111" stroke-width="1.9"/>
<path d="M396.6 481.6H431.6" fill="none" stroke="#0a0a0a" stroke-width="2.2"/>
<path d="M396.6 482.4H435.5L437.3 485.5L439.1 482.4H481.4L483.2 485.5L485 482.4H528.4V497.3H548.6V482.6H606.8Q611 482.6 611 486.8V572Q611 576.3 606.8 576.3H483.2V527.3Q483.2 524.3 480.2 524L396.6 514.1Z" fill="none" stroke="#0e0e0e" stroke-width="2.5" stroke-linejoin="round"/>
<path d="M393 482.4H397" fill="none" stroke="#111" stroke-width="3"/>
<g fill="none" stroke="#3c3c3c" stroke-width="1.0">
<path d="M345.4 629.5V556H436.1V629.5M352.9 556V629.5M386.9 556V629.5M394.4 556V629.5M428.4 556V629.5"/>
</g>
<g fill="none" stroke="#555" stroke-width="1.6">
<rect x="354.8" y="559.6" width="30" height="14.6"/>
<rect x="396.3" y="559.6" width="30" height="14.6"/>
</g>
<g fill="none" stroke="#fff" stroke-width="0.5">
<rect x="354.8" y="559.6" width="30" height="14.6"/>
<rect x="396.3" y="559.6" width="30" height="14.6"/>
</g>
<path d="M374.6 542.3L377.1 534.7L381.1 538.2L384.2 533.2Q386.5 531.2 391 531.2H439.8L444.2 534.8H466V542.6H457.6V544.2H454.6V542.6H446.6L435 546.6L433.8 543.4L414.6 548.6H389Q381 548.6 377.6 545.2Z" fill="#d0d0d0" stroke="#111" stroke-width="1.5" stroke-linejoin="round"/>
<path d="M466.2 530.6H472.4Q474.4 530.6 474.4 532.6V535.4Q474.4 537.2 472.6 537.2H471.6Q470.4 537.2 470.4 538.4V541.6Q470.4 542.8 471.6 542.8H472.6Q474.4 542.8 474.4 544.6V547Q474.4 549 472.4 549H466.6Q464.6 549 464.6 547V532.6Q464.6 530.6 466.2 530.6Z" fill="#fff" stroke="#111" stroke-width="1.5" stroke-linejoin="round"/>
<path d="M467.6 533.8H471.4V534.8M467.6 533.8V546H471.4V545" fill="none" stroke="#111" stroke-width="1.3"/>
<path d="M391 535.2Q398 534.6 401.2 537.4L404.3 543Q404.6 544.8 402.2 544.8H390.6Q386.4 544.8 386.4 540Q386.4 535.6 391 535.2Z" fill="#fff" stroke="#111" stroke-width="1.5"/>
<path d="M403.6 533.6H435L436.8 536.6L435.2 539.2L413.2 545.2Q411.8 545.4 411 544.5L402.6 535.8Q402.4 533.6 403.6 533.6Z" fill="#fff" stroke="#111" stroke-width="1.5"/>
<path d="M339.6 584.2H332Q329.1 584.2 329.1 581V484.8Q329.1 482.3 331.6 482.3H338.3V488.4H336.5V484.4H334.1V517.1H336.6V512.8L339.1 515.8L342.1 516.4Q343.6 517.6 343.2 519Q342.8 520.1 341.5 520.1H336Q334.9 520.1 334.9 521.6V530.7H376.1V519.6H370.2Q368.8 519.6 368.8 518.1Q368.8 516.6 370.4 516.6H381.6L385.2 520.6L383 523.6Q381.2 524.6 381.2 527L382 529.6Q383.6 530.6 386.4 530.2L389.6 526.8L391 527.6L393.4 531.2" fill="none" stroke="#0e0e0e" stroke-width="1.5" stroke-linejoin="round"/>
<path d="M338.8 488.6L339.6 480.4Q340.5 477.8 343 477.8H396.4" fill="none" stroke="#0e0e0e" stroke-width="1.8"/>
<path d="M341.1 484.2L342.4 480.6Q343.2 479.6 347 479.6Q350 479.6 352 480.8H381Q388 481.4 392.8 485" fill="none" stroke="#262626" stroke-width="1.5"/>
<path d="M388.6 477.8H397.6V485.6Q393.4 485.8 391.4 483Q390 480.6 388.6 477.8Z" fill="#0e0e0e"/>
<path d="M334.6 534.4H367.6V545.4H334.6Z" fill="none" stroke="#0e0e0e" stroke-width="1.5" stroke-linejoin="round"/>
<path d="M373.6 547.6L369.8 547.9H335Q334.4 547.9 334.4 549V553.8H338.6V557.2H334.4V563.6" fill="none" stroke="#0e0e0e" stroke-width="1.5" stroke-linejoin="round"/>
<path d="M334.4 563.6Q338.6 563.4 338.8 566L336.8 567.2V579Q338.8 579.4 339 582V584.2" fill="none" stroke="#0e0e0e" stroke-width="1.5" stroke-linejoin="round"/>
<path d="M338.6 567H341Q342 567.4 341.6 568.6L339.6 569.8M338.8 580.4Q342 578 342.2 575L341.8 570.2" fill="none" stroke="#555" stroke-width="0.9"/>
<path d="M339 565.4Q343 566 344.8 569V576Q340 580 339.6 584.6L345 587" fill="none" stroke="#666" stroke-width="0.9"/>
<rect x="336.4" y="569.4" width="3.2" height="8" fill="none" stroke="#333" stroke-width="0.8"/>
<path d="M383.4 523.6L388 519.6M384.4 526.4L389.2 522.2" stroke="#555" stroke-width="0.8"/>
<path d="M384.7 516.6L393.7 524.6L397.3 521.6L397.8 517.6L396.4 514.6" fill="none" stroke="#444" stroke-width="2.2"/>
<path d="M384.7 516.6L393.7 524.6L397.3 521.6L397.8 517.6L396.4 514.6" fill="none" stroke="#fff" stroke-width="0.8"/>
<path d="M445.7 543.9V562.2H451.6L452.6 559.8L453.6 562.2H463.3V559L465.2 556.5L470.9 555.2V552.7L465.2 552L462.7 548.9V543.3" fill="none" stroke="#2a2a2a" stroke-width="1.0"/>
<rect x="450" y="565.3" width="14.6" height="6.9" rx="1.2" fill="none" stroke="#2a2a2a" stroke-width="1.0"/>
<path d="M449.4 573.5H479.2Q480.3 573.5 480.3 574.6V583Q480.3 584.2 479.2 584.2H450.6Q449.4 584.2 449.4 583Z" fill="none" stroke="#222" stroke-width="1.3"/>
<rect x="450.6" y="574.8" width="27.2" height="6.2" fill="none" stroke="#2a2a2a" stroke-width="1.0"/>
<rect x="466.4" y="558.4" width="7.6" height="12.6" rx="2" fill="none" stroke="#2a2a2a" stroke-width="1.0"/>
<path d="M473 564.4L467.4 563.4L473 560.6M467.6 563.6H473M467.6 565H473M473 566.2L467.6 564.6" fill="none" stroke="#2a2a2a" stroke-width="1.0"/>
<path d="M477.8 553.2Q481.8 553.6 481.8 560V566Q481.8 571.6 477.6 571.6H476Q474 571.6 474 569.6V555.4Q474 553.2 476 553.2Z" fill="none" stroke="#2a2a2a" stroke-width="1.0"/>
<path d="M478.6 558.8Q476.4 560 476.4 562.6Q476.4 565 478.6 566" fill="none" stroke="#1a1a1a" stroke-width="1.3"/>
<path d="M473 549V565.6" fill="none" stroke="#111" stroke-width="1.5"/>
<path d="M473.6 566.4L471.2 569" fill="none" stroke="#111" stroke-width="1.8"/>
<path d="M443.8 565.3H446.4V582.6L448.6 584.4" fill="none" stroke="#111" stroke-width="1.6"/>
<path d="M436.8 562.6L441.4 558L444.2 565M437 586.2L449 584.6" fill="none" stroke="#333" stroke-width="0.9"/>
<path d="M439.4 575L440.8 573.8M440.4 566.6L441.6 565.2" fill="none" stroke="#111" stroke-width="1.2"/>
<g fill="none" stroke="#2a2a2a" stroke-width="1.05">
<path d="M304.5 444.5V501.2H295.1M298.5 482.3H321.8M299.2 448.2L309.8 458.8M299.2 477L309.8 487.6"/>
<path d="M388.2 492.9H446.8M388.2 508H450.5M427.9 487.6V499M431.4 470V514"/>
<path d="M391.5 498.2L401.3 488.4M422.6 498.2L432.4 488.4M391.5 513.3L401.3 503.5M426.1 513.3L435.9 503.5"/>
</g>
<g style="font-size:16.5px">
<text x="271.2" y="506.7">15</text>
<text x="453.3" y="498.6">16</text>
<text x="457.2" y="513.5">18</text>
</g>
</g></svg>
</body></html>
